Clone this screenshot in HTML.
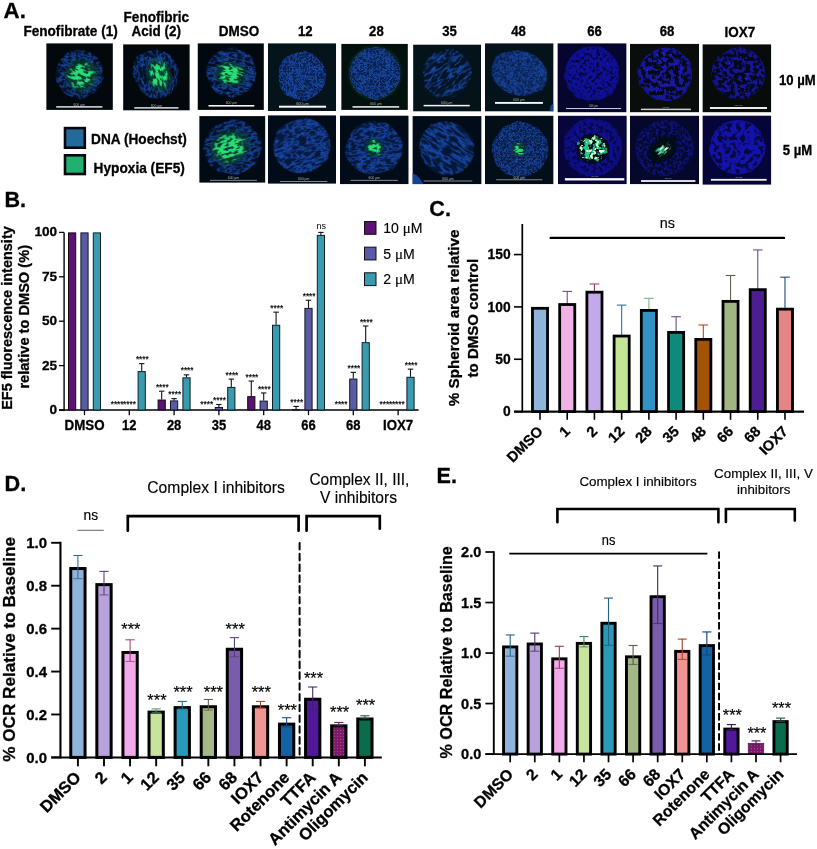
<!DOCTYPE html>
<html lang="en">
<head>
<meta charset="utf-8">
<title>Figure</title>
<style>
html,body{margin:0;padding:0;background:#fff;}
body{width:817px;height:849px;overflow:hidden;}
svg{display:block;font-family:"Liberation Sans", Arial, sans-serif;}
text{white-space:pre;}
</style>
</head>
<body>
<svg width="817" height="849" viewBox="0 0 817 849">
<defs>
<filter id="fFine" x="-5%" y="-5%" width="110%" height="110%" color-interpolation-filters="sRGB">
<feTurbulence type="fractalNoise" baseFrequency="0.42" numOctaves="2" seed="4" result="n"/>
<feColorMatrix in="n" type="matrix" values="0 0 0 0 1 0 0 0 0 1 0 0 0 0 1 5 0 0 0 -1.9" result="m"/>
<feComposite in="SourceGraphic" in2="m" operator="in"/>
</filter>
<filter id="fMed" x="-5%" y="-5%" width="110%" height="110%" color-interpolation-filters="sRGB">
<feTurbulence type="fractalNoise" baseFrequency="0.28" numOctaves="2" seed="9" result="n"/>
<feColorMatrix in="n" type="matrix" values="0 0 0 0 1 0 0 0 0 1 0 0 0 0 1 6 0 0 0 -2.4" result="m"/>
<feComposite in="SourceGraphic" in2="m" operator="in"/>
</filter>
<filter id="fStreak" x="-5%" y="-5%" width="110%" height="110%" color-interpolation-filters="sRGB">
<feTurbulence type="fractalNoise" baseFrequency="0.09 0.3" numOctaves="2" seed="7" result="n"/>
<feColorMatrix in="n" type="matrix" values="0 0 0 0 1 0 0 0 0 1 0 0 0 0 1 7 0 0 0 -2.9" result="m"/>
<feComposite in="SourceGraphic" in2="m" operator="in"/>
</filter>
<filter id="fBlob" x="-5%" y="-5%" width="110%" height="110%" color-interpolation-filters="sRGB">
<feTurbulence type="fractalNoise" baseFrequency="0.16" numOctaves="2" seed="12" result="n"/>
<feColorMatrix in="n" type="matrix" values="0 0 0 0 1 0 0 0 0 1 0 0 0 0 1 7 0 0 0 -2.7" result="m"/>
<feComposite in="SourceGraphic" in2="m" operator="in"/>
</filter>
<filter id="fHoles" x="-5%" y="-5%" width="110%" height="110%" color-interpolation-filters="sRGB">
<feTurbulence type="fractalNoise" baseFrequency="0.3" numOctaves="1" seed="21" result="n"/>
<feColorMatrix in="n" type="matrix" values="0 0 0 0 1 0 0 0 0 1 0 0 0 0 1 -9 0 0 0 5.4" result="m"/>
<feComposite in="SourceGraphic" in2="m" operator="in"/>
</filter>
<filter id="fBlur" x="-20%" y="-20%" width="140%" height="140%"><feGaussianBlur stdDeviation="0.8"/></filter>
<filter id="fBlur2" x="-30%" y="-30%" width="160%" height="160%"><feGaussianBlur stdDeviation="2"/></filter>
<radialGradient id="gBlue" cx="50%" cy="50%" r="50%">
<stop offset="0" stop-color="#1c52b4"/><stop offset="0.85" stop-color="#1a4fb4"/><stop offset="1" stop-color="#143c96"/>
</radialGradient>
<radialGradient id="gBlue2" cx="50%" cy="50%" r="50%">
<stop offset="0" stop-color="#1414b8"/><stop offset="0.9" stop-color="#1616c0"/><stop offset="1" stop-color="#1010a0"/>
</radialGradient>
<radialGradient id="gHalo" cx="50%" cy="50%" r="50%">
<stop offset="0" stop-color="#0a2a66" stop-opacity="0.95"/><stop offset="0.88" stop-color="#0a2660" stop-opacity="0.9"/><stop offset="1" stop-color="#061a40" stop-opacity="0"/>
</radialGradient>
<radialGradient id="gHalo2" cx="50%" cy="50%" r="50%">
<stop offset="0" stop-color="#0a0a6a" stop-opacity="0.95"/><stop offset="0.9" stop-color="#0a0a66" stop-opacity="0.9"/><stop offset="1" stop-color="#060640" stop-opacity="0"/>
</radialGradient>
<radialGradient id="gGreen" cx="50%" cy="50%" r="50%">
<stop offset="0" stop-color="#2cf07a"/><stop offset="0.6" stop-color="#22dc6e"/><stop offset="1" stop-color="#18a860" stop-opacity="0"/>
</radialGradient>
<pattern id="pDots" width="3" height="3" patternUnits="userSpaceOnUse"><rect width="3" height="3" fill="#7c1a70"/><rect x="1" y="1" width="1" height="1" fill="#b4505c"/></pattern>
</defs>

<rect x="0" y="0" width="817" height="849" fill="#fff"/>
<g id="panelA">
<text x="3.60" y="18.20" font-size="22.8" font-weight="700" stroke="#000" stroke-width="0.3" textLength="22.30" lengthAdjust="spacingAndGlyphs">A.</text>
<text x="23.40" y="36.20" font-size="14" font-weight="700" stroke="#000" stroke-width="0.3" textLength="94.40" lengthAdjust="spacingAndGlyphs">Fenofibrate (1)</text>
<text x="123.60" y="21.60" font-size="14" font-weight="700" stroke="#000" stroke-width="0.3" textLength="65.40" lengthAdjust="spacingAndGlyphs">Fenofibric</text>
<text x="131.60" y="36.20" font-size="14" font-weight="700" stroke="#000" stroke-width="0.3" textLength="49.40" lengthAdjust="spacingAndGlyphs">Acid (2)</text>
<text x="218.70" y="36.20" font-size="14" font-weight="700" stroke="#000" stroke-width="0.3" textLength="40.50" lengthAdjust="spacingAndGlyphs">DMSO</text>
<text x="297.90" y="36.40" font-size="14" font-weight="700" stroke="#000" stroke-width="0.3" textLength="14.60" lengthAdjust="spacingAndGlyphs">12</text>
<text x="369.10" y="36.40" font-size="14" font-weight="700" stroke="#000" stroke-width="0.3" textLength="14.60" lengthAdjust="spacingAndGlyphs">28</text>
<text x="442.30" y="36.40" font-size="14" font-weight="700" stroke="#000" stroke-width="0.3" textLength="14.60" lengthAdjust="spacingAndGlyphs">35</text>
<text x="511.30" y="36.40" font-size="14" font-weight="700" stroke="#000" stroke-width="0.3" textLength="14.60" lengthAdjust="spacingAndGlyphs">48</text>
<text x="587.30" y="36.40" font-size="14" font-weight="700" stroke="#000" stroke-width="0.3" textLength="14.60" lengthAdjust="spacingAndGlyphs">66</text>
<text x="659.80" y="36.40" font-size="14" font-weight="700" stroke="#000" stroke-width="0.3" textLength="14.60" lengthAdjust="spacingAndGlyphs">68</text>
<text x="724.60" y="36.80" font-size="14" font-weight="700" stroke="#000" stroke-width="0.3" textLength="30.70" lengthAdjust="spacingAndGlyphs">IOX7</text>
<text x="779.00" y="84.90" font-size="14" font-weight="700" stroke="#000" stroke-width="0.3" textLength="36.70" lengthAdjust="spacingAndGlyphs">10 µM</text>
<text x="782.80" y="154.80" font-size="14" font-weight="700" stroke="#000" stroke-width="0.3" textLength="29.40" lengthAdjust="spacingAndGlyphs">5 µM</text>
<rect x="63.70" y="126.80" width="22.40" height="22.20" fill="#04070f"/>
<rect x="66.30" y="129.40" width="17.20" height="17.00" fill="#236a9a"/>
<rect x="63.70" y="154.00" width="22.40" height="21.30" fill="#04070f"/>
<rect x="66.30" y="156.60" width="17.20" height="16.10" fill="#22b070"/>
<text x="91.10" y="144.40" font-size="14" font-weight="700" stroke="#000" stroke-width="0.3" textLength="95.70" lengthAdjust="spacingAndGlyphs">DNA (Hoechst)</text>
<text x="93.60" y="172.80" font-size="14" font-weight="700" stroke="#000" stroke-width="0.3" textLength="91.20" lengthAdjust="spacingAndGlyphs">Hypoxia (EF5)</text>
<clipPath id="t1"><rect x="46.20" y="43.20" width="66.70" height="66.70"/></clipPath>
<g clip-path="url(#t1)">
<rect x="46.20" y="43.20" width="66.70" height="66.70" fill="#02080c"/>
<radialGradient id="rg1"><stop offset="0" stop-color="#fff"/><stop offset="0.7" stop-color="#fff"/><stop offset="1" stop-color="#fff" stop-opacity="0.86"/></radialGradient>
<filter id="bf1" x="-15%" y="-15%" width="130%" height="130%" color-interpolation-filters="sRGB"><feTurbulence type="fractalNoise" baseFrequency="0.07" numOctaves="2" seed="6" result="lf"/><feDisplacementMap in="SourceGraphic" in2="lf" scale="4" xChannelSelector="R" yChannelSelector="G" result="shape"/><feTurbulence type="fractalNoise" baseFrequency="0.16 0.30" numOctaves="2" seed="3" result="n"/><feColorMatrix in="n" type="matrix" values="0 0 0 0 0 0 0 0 0 0 0 0 0 0 0 1 0 0 0 0" result="m0"/><feComposite in="m0" in2="shape" operator="arithmetic" k1="1" k2="0" k3="0" k4="0" result="c"/><feComponentTransfer in="c" result="thr"><feFuncA type="table" tableValues="0 0 0 0 0 0 0.4 1 0.4 0 0 0 0 0 0"/></feComponentTransfer><feComposite in="thr" in2="shape" operator="in" result="thr2"/><feFlood flood-color="#194bae" result="fc"/><feComposite in="fc" in2="thr2" operator="in" result="strands"/><feFlood flood-color="#051634" flood-opacity="0.55" result="fl"/><feComposite in="fl" in2="shape" operator="in" result="base"/><feMerge result="mg"><feMergeNode in="base"/><feMergeNode in="strands"/></feMerge><feGaussianBlur stdDeviation="0.35"/></filter>
<g transform="rotate(20 79.50 74.30)"><ellipse cx="79.50" cy="74.30" rx="24.20" ry="24.50" fill="url(#rg1)" filter="url(#bf1)"/></g>
<ellipse cx="81.40" cy="75.00" rx="14.72" ry="14.72" fill="#03100e" opacity="0.55" filter="url(#fBlur)"/>
<radialGradient id="rg2"><stop offset="0" stop-color="#fff"/><stop offset="0.5" stop-color="#fff"/><stop offset="1" stop-color="#fff" stop-opacity="0.45"/></radialGradient>
<filter id="bf2" x="-15%" y="-15%" width="130%" height="130%" color-interpolation-filters="sRGB"><feTurbulence type="fractalNoise" baseFrequency="0.07" numOctaves="2" seed="56" result="lf"/><feDisplacementMap in="SourceGraphic" in2="lf" scale="5" xChannelSelector="R" yChannelSelector="G" result="shape"/><feTurbulence type="fractalNoise" baseFrequency="0.16 0.40" numOctaves="2" seed="53" result="n"/><feColorMatrix in="n" type="matrix" values="0 0 0 0 0 0 0 0 0 0 0 0 0 0 0 1 0 0 0 0" result="m0"/><feComposite in="m0" in2="shape" operator="arithmetic" k1="1" k2="0" k3="0" k4="0" result="c"/><feColorMatrix in="c" type="matrix" values="0 0 0 0 0 0 0 0 0 0 0 0 0 0 0 0 0 0 9 -3.6" result="thr"/><feComposite in="thr" in2="shape" operator="in" result="thr2"/><feFlood flood-color="#26e074" result="fc"/><feComposite in="fc" in2="thr2" operator="in" result="strands"/><feFlood flood-color="#0a5a3a" flood-opacity="0.55" result="fl"/><feComposite in="fl" in2="shape" operator="in" result="base"/><feMerge result="mg"><feMergeNode in="base"/><feMergeNode in="strands"/></feMerge><feGaussianBlur stdDeviation="0.3"/></filter>
<g transform="rotate(20 81.40 75.00)"><ellipse cx="81.40" cy="75.00" rx="17.05" ry="17.05" fill="url(#rg2)" filter="url(#bf2)"/></g>
<rect x="56.20" y="106.20" width="46.20" height="1.40" fill="#f0f0f0"/>
<text x="79.30" y="105.50" font-size="3.4" text-anchor="middle" fill="#c8c8c8" opacity="0.85">600 µm</text>
</g>
<clipPath id="t2"><rect x="123.10" y="44.20" width="66.70" height="66.40"/></clipPath>
<g clip-path="url(#t2)">
<rect x="123.10" y="44.20" width="66.70" height="66.40" fill="#02080c"/>
<radialGradient id="rg3"><stop offset="0" stop-color="#fff"/><stop offset="0.7" stop-color="#fff"/><stop offset="1" stop-color="#fff" stop-opacity="0.86"/></radialGradient>
<filter id="bf3" x="-15%" y="-15%" width="130%" height="130%" color-interpolation-filters="sRGB"><feTurbulence type="fractalNoise" baseFrequency="0.07" numOctaves="2" seed="8" result="lf"/><feDisplacementMap in="SourceGraphic" in2="lf" scale="4" xChannelSelector="R" yChannelSelector="G" result="shape"/><feTurbulence type="fractalNoise" baseFrequency="0.16 0.30" numOctaves="2" seed="5" result="n"/><feColorMatrix in="n" type="matrix" values="0 0 0 0 0 0 0 0 0 0 0 0 0 0 0 1 0 0 0 0" result="m0"/><feComposite in="m0" in2="shape" operator="arithmetic" k1="1" k2="0" k3="0" k4="0" result="c"/><feComponentTransfer in="c" result="thr"><feFuncA type="table" tableValues="0 0 0 0 0 0 0.4 1 0.4 0 0 0 0 0 0"/></feComponentTransfer><feComposite in="thr" in2="shape" operator="in" result="thr2"/><feFlood flood-color="#194bae" result="fc"/><feComposite in="fc" in2="thr2" operator="in" result="strands"/><feFlood flood-color="#051634" flood-opacity="0.55" result="fl"/><feComposite in="fl" in2="shape" operator="in" result="base"/><feMerge result="mg"><feMergeNode in="base"/><feMergeNode in="strands"/></feMerge><feGaussianBlur stdDeviation="0.35"/></filter>
<g transform="rotate(70 156.00 73.70)"><ellipse cx="156.00" cy="73.70" rx="25.20" ry="22.40" fill="url(#rg3)" filter="url(#bf3)"/></g>
<ellipse cx="158.80" cy="74.50" rx="16.15" ry="10.92" fill="#03100e" opacity="0.55" filter="url(#fBlur)"/>
<radialGradient id="rg4"><stop offset="0" stop-color="#fff"/><stop offset="0.5" stop-color="#fff"/><stop offset="1" stop-color="#fff" stop-opacity="0.45"/></radialGradient>
<filter id="bf4" x="-15%" y="-15%" width="130%" height="130%" color-interpolation-filters="sRGB"><feTurbulence type="fractalNoise" baseFrequency="0.07" numOctaves="2" seed="58" result="lf"/><feDisplacementMap in="SourceGraphic" in2="lf" scale="5" xChannelSelector="R" yChannelSelector="G" result="shape"/><feTurbulence type="fractalNoise" baseFrequency="0.16 0.40" numOctaves="2" seed="55" result="n"/><feColorMatrix in="n" type="matrix" values="0 0 0 0 0 0 0 0 0 0 0 0 0 0 0 1 0 0 0 0" result="m0"/><feComposite in="m0" in2="shape" operator="arithmetic" k1="1" k2="0" k3="0" k4="0" result="c"/><feColorMatrix in="c" type="matrix" values="0 0 0 0 0 0 0 0 0 0 0 0 0 0 0 0 0 0 9 -3.6" result="thr"/><feComposite in="thr" in2="shape" operator="in" result="thr2"/><feFlood flood-color="#26e074" result="fc"/><feComposite in="fc" in2="thr2" operator="in" result="strands"/><feFlood flood-color="#0a5a3a" flood-opacity="0.55" result="fl"/><feComposite in="fl" in2="shape" operator="in" result="base"/><feMerge result="mg"><feMergeNode in="base"/><feMergeNode in="strands"/></feMerge><feGaussianBlur stdDeviation="0.3"/></filter>
<g transform="rotate(70 158.80 74.50)"><ellipse cx="158.80" cy="74.50" rx="18.70" ry="12.65" fill="url(#rg4)" filter="url(#bf4)"/></g>
<rect x="134.30" y="107.20" width="44.20" height="1.40" fill="#f0f0f0"/>
<text x="156.40" y="106.50" font-size="3.4" text-anchor="middle" fill="#c8c8c8" opacity="0.85">600 µm</text>
</g>
<clipPath id="t3"><rect x="197.50" y="43.20" width="66.40" height="66.70"/></clipPath>
<g clip-path="url(#t3)">
<rect x="197.50" y="43.20" width="66.40" height="66.70" fill="#01080e"/>
<radialGradient id="rg5"><stop offset="0" stop-color="#fff"/><stop offset="0.7" stop-color="#fff"/><stop offset="1" stop-color="#fff" stop-opacity="0.86"/></radialGradient>
<filter id="bf5" x="-15%" y="-15%" width="130%" height="130%" color-interpolation-filters="sRGB"><feTurbulence type="fractalNoise" baseFrequency="0.07" numOctaves="2" seed="10" result="lf"/><feDisplacementMap in="SourceGraphic" in2="lf" scale="4" xChannelSelector="R" yChannelSelector="G" result="shape"/><feTurbulence type="fractalNoise" baseFrequency="0.12 0.28" numOctaves="2" seed="7" result="n"/><feColorMatrix in="n" type="matrix" values="0 0 0 0 0 0 0 0 0 0 0 0 0 0 0 1 0 0 0 0" result="m0"/><feComposite in="m0" in2="shape" operator="arithmetic" k1="1" k2="0" k3="0" k4="0" result="c"/><feComponentTransfer in="c" result="thr"><feFuncA type="table" tableValues="0 0 0 0 0 0 0.4 1 0.4 0 0 0 0 0 0"/></feComponentTransfer><feComposite in="thr" in2="shape" operator="in" result="thr2"/><feFlood flood-color="#194bae" result="fc"/><feComposite in="fc" in2="thr2" operator="in" result="strands"/><feFlood flood-color="#051634" flood-opacity="0.55" result="fl"/><feComposite in="fl" in2="shape" operator="in" result="base"/><feMerge result="mg"><feMergeNode in="base"/><feMergeNode in="strands"/></feMerge><feGaussianBlur stdDeviation="0.35"/></filter>
<g transform="rotate(10 231.10 72.70)"><ellipse cx="231.10" cy="72.70" rx="25.20" ry="24.60" fill="url(#rg5)" filter="url(#bf5)"/></g>
<ellipse cx="230.50" cy="73.70" rx="15.20" ry="11.40" fill="#03100e" opacity="0.55" filter="url(#fBlur)"/>
<radialGradient id="rg6"><stop offset="0" stop-color="#fff"/><stop offset="0.5" stop-color="#fff"/><stop offset="1" stop-color="#fff" stop-opacity="0.45"/></radialGradient>
<filter id="bf6" x="-15%" y="-15%" width="130%" height="130%" color-interpolation-filters="sRGB"><feTurbulence type="fractalNoise" baseFrequency="0.07" numOctaves="2" seed="60" result="lf"/><feDisplacementMap in="SourceGraphic" in2="lf" scale="5" xChannelSelector="R" yChannelSelector="G" result="shape"/><feTurbulence type="fractalNoise" baseFrequency="0.16 0.40" numOctaves="2" seed="57" result="n"/><feColorMatrix in="n" type="matrix" values="0 0 0 0 0 0 0 0 0 0 0 0 0 0 0 1 0 0 0 0" result="m0"/><feComposite in="m0" in2="shape" operator="arithmetic" k1="1" k2="0" k3="0" k4="0" result="c"/><feColorMatrix in="c" type="matrix" values="0 0 0 0 0 0 0 0 0 0 0 0 0 0 0 0 0 0 9 -3.6" result="thr"/><feComposite in="thr" in2="shape" operator="in" result="thr2"/><feFlood flood-color="#26e074" result="fc"/><feComposite in="fc" in2="thr2" operator="in" result="strands"/><feFlood flood-color="#0a5a3a" flood-opacity="0.55" result="fl"/><feComposite in="fl" in2="shape" operator="in" result="base"/><feMerge result="mg"><feMergeNode in="base"/><feMergeNode in="strands"/></feMerge><feGaussianBlur stdDeviation="0.3"/></filter>
<g transform="rotate(10 230.50 73.70)"><ellipse cx="230.50" cy="73.70" rx="17.60" ry="13.20" fill="url(#rg6)" filter="url(#bf6)"/></g>
<rect x="208.50" y="105.00" width="45.80" height="1.60" fill="#f4f4f4"/>
<text x="231.40" y="104.30" font-size="3.4" text-anchor="middle" fill="#c8c8c8" opacity="0.85">600 µm</text>
</g>
<clipPath id="t4"><rect x="267.90" y="43.20" width="68.20" height="67.80"/></clipPath>
<g clip-path="url(#t4)">
<rect x="267.90" y="43.20" width="68.20" height="67.80" fill="#04141a"/>
<radialGradient id="rg7"><stop offset="0" stop-color="#fff"/><stop offset="0.85" stop-color="#fff"/><stop offset="1" stop-color="#fff" stop-opacity="0.85"/></radialGradient>
<filter id="bf7" x="-15%" y="-15%" width="130%" height="130%" color-interpolation-filters="sRGB"><feTurbulence type="fractalNoise" baseFrequency="0.07" numOctaves="2" seed="7" result="lf"/><feDisplacementMap in="SourceGraphic" in2="lf" scale="3" xChannelSelector="R" yChannelSelector="G" result="shape"/><feTurbulence type="fractalNoise" baseFrequency="0.30" numOctaves="2" seed="4" result="n"/><feColorMatrix in="n" type="matrix" values="0 0 0 0 0 0 0 0 0 0 0 0 0 0 0 1 0 0 0 0" result="m0"/><feComposite in="m0" in2="shape" operator="arithmetic" k1="1" k2="0" k3="0" k4="0" result="c"/><feComponentTransfer in="c" result="thr"><feFuncA type="table" tableValues="0 0 0 0 0 0 0.5 1 0.5 0 0 0 0 0 0"/></feComponentTransfer><feComposite in="thr" in2="shape" operator="in" result="thr2"/><feFlood flood-color="#1a49a8" result="fc"/><feComposite in="fc" in2="thr2" operator="in" result="strands"/><feFlood flood-color="#0a2250" flood-opacity="1" result="fl"/><feComposite in="fl" in2="shape" operator="in" result="base"/><feMerge result="mg"><feMergeNode in="base"/><feMergeNode in="strands"/></feMerge><feGaussianBlur stdDeviation="0.35"/></filter>
<g><ellipse cx="301.80" cy="75.80" rx="24.40" ry="24.40" fill="url(#rg7)" filter="url(#bf7)"/></g>
<rect x="279.00" y="105.70" width="47.10" height="2.00" fill="#f8f8f8"/>
<text x="302.55" y="105.00" font-size="3.8" text-anchor="middle" fill="#c8c8c8" opacity="0.85">600 µm</text>
</g>
<clipPath id="t5"><rect x="341.20" y="43.70" width="66.70" height="66.20"/></clipPath>
<g clip-path="url(#t5)">
<rect x="341.20" y="43.70" width="66.70" height="66.20" fill="#02100e"/>
<radialGradient id="rg8"><stop offset="0" stop-color="#fff"/><stop offset="0.85" stop-color="#fff"/><stop offset="1" stop-color="#fff" stop-opacity="0.85"/></radialGradient>
<filter id="bf8" x="-15%" y="-15%" width="130%" height="130%" color-interpolation-filters="sRGB"><feTurbulence type="fractalNoise" baseFrequency="0.07" numOctaves="2" seed="14" result="lf"/><feDisplacementMap in="SourceGraphic" in2="lf" scale="3" xChannelSelector="R" yChannelSelector="G" result="shape"/><feTurbulence type="fractalNoise" baseFrequency="0.30" numOctaves="2" seed="11" result="n"/><feColorMatrix in="n" type="matrix" values="0 0 0 0 0 0 0 0 0 0 0 0 0 0 0 1 0 0 0 0" result="m0"/><feComposite in="m0" in2="shape" operator="arithmetic" k1="1" k2="0" k3="0" k4="0" result="c"/><feComponentTransfer in="c" result="thr"><feFuncA type="table" tableValues="0 0 0 0 0 0 0.5 1 0.5 0 0 0 0 0 0"/></feComponentTransfer><feComposite in="thr" in2="shape" operator="in" result="thr2"/><feFlood flood-color="#1a49a8" result="fc"/><feComposite in="fc" in2="thr2" operator="in" result="strands"/><feFlood flood-color="#0a2250" flood-opacity="1" result="fl"/><feComposite in="fl" in2="shape" operator="in" result="base"/><feMerge result="mg"><feMergeNode in="base"/><feMergeNode in="strands"/></feMerge><feGaussianBlur stdDeviation="0.35"/></filter>
<g><ellipse cx="375.00" cy="73.00" rx="25.60" ry="26.20" fill="url(#rg8)" filter="url(#bf8)"/></g>
<circle cx="375" cy="73" r="26" fill="none" stroke="#165038" stroke-width="1.6" opacity="0.5" filter="url(#fBlur)"/>
<rect x="352.50" y="106.15" width="46.70" height="1.50" fill="#f4f4f4"/>
<text x="375.85" y="105.45" font-size="3.4" text-anchor="middle" fill="#c8c8c8" opacity="0.85">600 µm</text>
</g>
<clipPath id="t6"><rect x="413.10" y="44.40" width="68.00" height="67.20"/></clipPath>
<g clip-path="url(#t6)">
<rect x="413.10" y="44.40" width="68.00" height="67.20" fill="#04121a"/>
<radialGradient id="rg9"><stop offset="0" stop-color="#fff"/><stop offset="0.7" stop-color="#fff"/><stop offset="1" stop-color="#fff" stop-opacity="0.85"/></radialGradient>
<filter id="bf9" x="-15%" y="-15%" width="130%" height="130%" color-interpolation-filters="sRGB"><feTurbulence type="fractalNoise" baseFrequency="0.07" numOctaves="2" seed="12" result="lf"/><feDisplacementMap in="SourceGraphic" in2="lf" scale="6" xChannelSelector="R" yChannelSelector="G" result="shape"/><feTurbulence type="fractalNoise" baseFrequency="0.08 0.26" numOctaves="2" seed="9" result="n"/><feColorMatrix in="n" type="matrix" values="0 0 0 0 0 0 0 0 0 0 0 0 0 0 0 1 0 0 0 0" result="m0"/><feComposite in="m0" in2="shape" operator="arithmetic" k1="1" k2="0" k3="0" k4="0" result="c"/><feComponentTransfer in="c" result="thr"><feFuncA type="table" tableValues="0 0 0 0 0 0 0.25 1 0.25 0 0 0 0 0 0"/></feComponentTransfer><feComposite in="thr" in2="shape" operator="in" result="thr2"/><feFlood flood-color="#194bae" result="fc"/><feComposite in="fc" in2="thr2" operator="in" result="strands"/><feFlood flood-color="#051634" flood-opacity="0.4" result="fl"/><feComposite in="fl" in2="shape" operator="in" result="base"/><feMerge result="mg"><feMergeNode in="base"/><feMergeNode in="strands"/></feMerge><feGaussianBlur stdDeviation="0.35"/></filter>
<g transform="rotate(-40 446.70 73.70)"><ellipse cx="446.70" cy="73.70" rx="25.00" ry="23.20" fill="url(#rg9)" filter="url(#bf9)"/></g>
<rect x="423.60" y="104.85" width="46.20" height="1.50" fill="#f4f4f4"/>
<text x="446.70" y="104.15" font-size="3.4" text-anchor="middle" fill="#c8c8c8" opacity="0.85">600 µm</text>
</g>
<clipPath id="t7"><rect x="485.00" y="43.20" width="68.60" height="68.40"/></clipPath>
<g clip-path="url(#t7)">
<rect x="485.00" y="43.20" width="68.60" height="68.40" fill="#04121a"/>
<radialGradient id="rg10"><stop offset="0" stop-color="#fff"/><stop offset="0.85" stop-color="#fff"/><stop offset="1" stop-color="#fff" stop-opacity="0.85"/></radialGradient>
<filter id="bf10" x="-15%" y="-15%" width="130%" height="130%" color-interpolation-filters="sRGB"><feTurbulence type="fractalNoise" baseFrequency="0.07" numOctaves="2" seed="18" result="lf"/><feDisplacementMap in="SourceGraphic" in2="lf" scale="3" xChannelSelector="R" yChannelSelector="G" result="shape"/><feTurbulence type="fractalNoise" baseFrequency="0.30" numOctaves="2" seed="15" result="n"/><feColorMatrix in="n" type="matrix" values="0 0 0 0 0 0 0 0 0 0 0 0 0 0 0 1 0 0 0 0" result="m0"/><feComposite in="m0" in2="shape" operator="arithmetic" k1="1" k2="0" k3="0" k4="0" result="c"/><feComponentTransfer in="c" result="thr"><feFuncA type="table" tableValues="0 0 0 0 0 0 0.5 1 0.5 0 0 0 0 0 0"/></feComponentTransfer><feComposite in="thr" in2="shape" operator="in" result="thr2"/><feFlood flood-color="#1a49a8" result="fc"/><feComposite in="fc" in2="thr2" operator="in" result="strands"/><feFlood flood-color="#0a2250" flood-opacity="1" result="fl"/><feComposite in="fl" in2="shape" operator="in" result="base"/><feMerge result="mg"><feMergeNode in="base"/><feMergeNode in="strands"/></feMerge><feGaussianBlur stdDeviation="0.35"/></filter>
<g transform="rotate(15 519.30 73.00)"><ellipse cx="519.30" cy="73.00" rx="28.60" ry="22.40" fill="url(#rg10)" filter="url(#bf10)"/></g>
<path d="M553.6 103 L550.5 106 L549.5 111.6 L553.6 111.6Z" fill="#1a4fb4" opacity="0.8"/>
<rect x="495.00" y="101.95" width="47.90" height="1.90" fill="#f8f8f8"/>
<text x="518.95" y="101.25" font-size="3.4" text-anchor="middle" fill="#c8c8c8" opacity="0.85">600 µm</text>
</g>
<clipPath id="t8"><rect x="557.40" y="43.20" width="69.20" height="69.20"/></clipPath>
<g clip-path="url(#t8)">
<rect x="557.40" y="43.20" width="69.20" height="69.20" fill="#05052e"/>
<radialGradient id="rg11"><stop offset="0" stop-color="#fff"/><stop offset="0.8" stop-color="#fff"/><stop offset="1" stop-color="#fff" stop-opacity="0.8"/></radialGradient>
<filter id="bf11" x="-15%" y="-15%" width="130%" height="130%" color-interpolation-filters="sRGB"><feTurbulence type="fractalNoise" baseFrequency="0.07" numOctaves="2" seed="24" result="lf"/><feDisplacementMap in="SourceGraphic" in2="lf" scale="4" xChannelSelector="R" yChannelSelector="G" result="shape"/><feTurbulence type="fractalNoise" baseFrequency="0.3" numOctaves="2" seed="21" result="n"/><feColorMatrix in="n" type="matrix" values="0 0 0 0 0 0 0 0 0 0 0 0 0 0 0 1 0 0 0 0" result="m0"/><feComposite in="m0" in2="shape" operator="arithmetic" k1="1" k2="0" k3="0" k4="0" result="c"/><feColorMatrix in="c" type="matrix" values="0 0 0 0 0 0 0 0 0 0 0 0 0 0 0 0 0 0 -5 3.3499999999999996" result="thr"/><feComposite in="thr" in2="shape" operator="in" result="thr2"/><feFlood flood-color="#10109c" result="fc"/><feComposite in="fc" in2="thr2" operator="in" result="strands"/><feFlood flood-color="#07073c" flood-opacity="0.9" result="fl"/><feComposite in="fl" in2="shape" operator="in" result="base"/><feMerge result="mg"><feMergeNode in="base"/><feMergeNode in="strands"/></feMerge><feGaussianBlur stdDeviation="0.35"/></filter>
<g><ellipse cx="592.30" cy="73.70" rx="27.40" ry="27.40" fill="url(#rg11)" filter="url(#bf11)"/></g>
<rect x="566.10" y="108.15" width="55.00" height="0.90" fill="#e8e8f0"/>
<text x="593.60" y="107.45" font-size="2.6" text-anchor="middle" fill="#c8c8c8" opacity="0.85">600 µm</text>
</g>
<clipPath id="t9"><rect x="630.00" y="43.70" width="69.10" height="68.70"/></clipPath>
<g clip-path="url(#t9)">
<rect x="630.00" y="43.70" width="69.10" height="68.70" fill="#090e0c"/>
<radialGradient id="rg12"><stop offset="0" stop-color="#fff"/><stop offset="0.8" stop-color="#fff"/><stop offset="1" stop-color="#fff" stop-opacity="0.8"/></radialGradient>
<filter id="bf12" x="-15%" y="-15%" width="130%" height="130%" color-interpolation-filters="sRGB"><feTurbulence type="fractalNoise" baseFrequency="0.07" numOctaves="2" seed="26" result="lf"/><feDisplacementMap in="SourceGraphic" in2="lf" scale="4" xChannelSelector="R" yChannelSelector="G" result="shape"/><feTurbulence type="fractalNoise" baseFrequency="0.24" numOctaves="2" seed="23" result="n"/><feColorMatrix in="n" type="matrix" values="0 0 0 0 0 0 0 0 0 0 0 0 0 0 0 1 0 0 0 0" result="m0"/><feComposite in="m0" in2="shape" operator="arithmetic" k1="1" k2="0" k3="0" k4="0" result="c"/><feColorMatrix in="c" type="matrix" values="0 0 0 0 0 0 0 0 0 0 0 0 0 0 0 0 0 0 -7 3.9299999999999997" result="thr"/><feComposite in="thr" in2="shape" operator="in" result="thr2"/><feFlood flood-color="#1719a6" result="fc"/><feComposite in="fc" in2="thr2" operator="in" result="strands"/><feFlood flood-color="#06081a" flood-opacity="0.9" result="fl"/><feComposite in="fl" in2="shape" operator="in" result="base"/><feMerge result="mg"><feMergeNode in="base"/><feMergeNode in="strands"/></feMerge><feGaussianBlur stdDeviation="0.35"/></filter>
<g><ellipse cx="665.20" cy="74.60" rx="27.00" ry="27.00" fill="url(#rg12)" filter="url(#bf12)"/></g>
<circle cx="651.6" cy="61.7" r="0.45" fill="#c848c8" opacity="0.85"/>
<circle cx="671.2" cy="54.4" r="0.45" fill="#c848c8" opacity="0.85"/>
<circle cx="663.9" cy="53.8" r="0.45" fill="#c848c8" opacity="0.85"/>
<circle cx="680.0" cy="77.6" r="0.45" fill="#c848c8" opacity="0.85"/>
<circle cx="681.8" cy="68.7" r="0.45" fill="#c848c8" opacity="0.85"/>
<circle cx="671.2" cy="70.6" r="0.45" fill="#c848c8" opacity="0.85"/>
<circle cx="654.5" cy="77.0" r="0.45" fill="#c848c8" opacity="0.85"/>
<circle cx="649.2" cy="70.4" r="0.45" fill="#c848c8" opacity="0.85"/>
<circle cx="675.4" cy="75.7" r="0.45" fill="#c848c8" opacity="0.85"/>
<circle cx="661.3" cy="95.6" r="0.45" fill="#c848c8" opacity="0.85"/>
<circle cx="666.1" cy="66.2" r="0.45" fill="#c848c8" opacity="0.85"/>
<circle cx="667.6" cy="67.1" r="0.45" fill="#c848c8" opacity="0.85"/>
<circle cx="659.4" cy="69.6" r="0.45" fill="#c848c8" opacity="0.85"/>
<circle cx="685.7" cy="75.1" r="0.45" fill="#c848c8" opacity="0.85"/>
<circle cx="667.8" cy="84.8" r="0.45" fill="#c848c8" opacity="0.85"/>
<circle cx="685.6" cy="72.6" r="0.45" fill="#c848c8" opacity="0.85"/>
<circle cx="659.9" cy="95.8" r="0.45" fill="#c848c8" opacity="0.85"/>
<circle cx="647.6" cy="70.5" r="0.45" fill="#c848c8" opacity="0.85"/>
<circle cx="671.2" cy="95.4" r="0.45" fill="#c848c8" opacity="0.85"/>
<circle cx="657.3" cy="54.8" r="0.45" fill="#c848c8" opacity="0.85"/>
<circle cx="674.6" cy="67.5" r="0.45" fill="#c848c8" opacity="0.85"/>
<circle cx="659.4" cy="81.8" r="0.45" fill="#c848c8" opacity="0.85"/>
<circle cx="668.6" cy="79.4" r="0.45" fill="#c848c8" opacity="0.85"/>
<circle cx="659.8" cy="91.1" r="0.45" fill="#c848c8" opacity="0.85"/>
<circle cx="683.3" cy="75.3" r="0.45" fill="#c848c8" opacity="0.85"/>
<circle cx="658.8" cy="85.3" r="0.45" fill="#c848c8" opacity="0.85"/>
<rect x="641.00" y="108.65" width="49.90" height="1.50" fill="#cfcfcf"/>
<text x="665.95" y="107.95" font-size="2.0" text-anchor="middle" fill="#c8c8c8" opacity="0.85">600 µm</text>
</g>
<clipPath id="t10"><rect x="702.40" y="44.20" width="68.90" height="68.20"/></clipPath>
<g clip-path="url(#t10)">
<rect x="702.40" y="44.20" width="68.90" height="68.20" fill="#070c0a"/>
<radialGradient id="rg13"><stop offset="0" stop-color="#fff"/><stop offset="0.8" stop-color="#fff"/><stop offset="1" stop-color="#fff" stop-opacity="0.8"/></radialGradient>
<filter id="bf13" x="-15%" y="-15%" width="130%" height="130%" color-interpolation-filters="sRGB"><feTurbulence type="fractalNoise" baseFrequency="0.07" numOctaves="2" seed="28" result="lf"/><feDisplacementMap in="SourceGraphic" in2="lf" scale="4" xChannelSelector="R" yChannelSelector="G" result="shape"/><feTurbulence type="fractalNoise" baseFrequency="0.26" numOctaves="2" seed="25" result="n"/><feColorMatrix in="n" type="matrix" values="0 0 0 0 0 0 0 0 0 0 0 0 0 0 0 1 0 0 0 0" result="m0"/><feComposite in="m0" in2="shape" operator="arithmetic" k1="1" k2="0" k3="0" k4="0" result="c"/><feColorMatrix in="c" type="matrix" values="0 0 0 0 0 0 0 0 0 0 0 0 0 0 0 0 0 0 -7 3.895" result="thr"/><feComposite in="thr" in2="shape" operator="in" result="thr2"/><feFlood flood-color="#151598" result="fc"/><feComposite in="fc" in2="thr2" operator="in" result="strands"/><feFlood flood-color="#060818" flood-opacity="0.9" result="fl"/><feComposite in="fl" in2="shape" operator="in" result="base"/><feMerge result="mg"><feMergeNode in="base"/><feMergeNode in="strands"/></feMerge><feGaussianBlur stdDeviation="0.35"/></filter>
<g><ellipse cx="738.30" cy="73.40" rx="27.00" ry="25.80" fill="url(#rg13)" filter="url(#bf13)"/></g>
<circle cx="741.2" cy="93.1" r="0.45" fill="#c848c8" opacity="0.85"/>
<circle cx="750.1" cy="85.7" r="0.45" fill="#c848c8" opacity="0.85"/>
<circle cx="746.9" cy="78.8" r="0.45" fill="#c848c8" opacity="0.85"/>
<circle cx="747.5" cy="73.6" r="0.45" fill="#c848c8" opacity="0.85"/>
<circle cx="729.8" cy="63.2" r="0.45" fill="#c848c8" opacity="0.85"/>
<circle cx="724.8" cy="77.8" r="0.45" fill="#c848c8" opacity="0.85"/>
<circle cx="744.8" cy="90.7" r="0.45" fill="#c848c8" opacity="0.85"/>
<circle cx="746.5" cy="78.9" r="0.45" fill="#c848c8" opacity="0.85"/>
<circle cx="748.5" cy="75.0" r="0.45" fill="#c848c8" opacity="0.85"/>
<circle cx="722.4" cy="84.1" r="0.45" fill="#c848c8" opacity="0.85"/>
<circle cx="733.4" cy="78.3" r="0.45" fill="#c848c8" opacity="0.85"/>
<circle cx="737.3" cy="93.6" r="0.45" fill="#c848c8" opacity="0.85"/>
<rect x="709.90" y="107.05" width="57.10" height="1.90" fill="#f8f8f8"/>
<text x="738.45" y="106.35" font-size="2.4" text-anchor="middle" fill="#c8c8c8" opacity="0.85">600 µm</text>
</g>
<clipPath id="t11"><rect x="199.20" y="116.10" width="66.20" height="66.70"/></clipPath>
<g clip-path="url(#t11)">
<rect x="199.20" y="116.10" width="66.20" height="66.70" fill="#020a14"/>
<radialGradient id="rg14"><stop offset="0" stop-color="#fff"/><stop offset="0.7" stop-color="#fff"/><stop offset="1" stop-color="#fff" stop-opacity="0.86"/></radialGradient>
<filter id="bf14" x="-15%" y="-15%" width="130%" height="130%" color-interpolation-filters="sRGB"><feTurbulence type="fractalNoise" baseFrequency="0.07" numOctaves="2" seed="34" result="lf"/><feDisplacementMap in="SourceGraphic" in2="lf" scale="4" xChannelSelector="R" yChannelSelector="G" result="shape"/><feTurbulence type="fractalNoise" baseFrequency="0.12 0.28" numOctaves="2" seed="31" result="n"/><feColorMatrix in="n" type="matrix" values="0 0 0 0 0 0 0 0 0 0 0 0 0 0 0 1 0 0 0 0" result="m0"/><feComposite in="m0" in2="shape" operator="arithmetic" k1="1" k2="0" k3="0" k4="0" result="c"/><feComponentTransfer in="c" result="thr"><feFuncA type="table" tableValues="0 0 0 0 0 0 0.4 1 0.4 0 0 0 0 0 0"/></feComponentTransfer><feComposite in="thr" in2="shape" operator="in" result="thr2"/><feFlood flood-color="#194bae" result="fc"/><feComposite in="fc" in2="thr2" operator="in" result="strands"/><feFlood flood-color="#051634" flood-opacity="0.6" result="fl"/><feComposite in="fl" in2="shape" operator="in" result="base"/><feMerge result="mg"><feMergeNode in="base"/><feMergeNode in="strands"/></feMerge><feGaussianBlur stdDeviation="0.35"/></filter>
<g transform="rotate(-15 232.40 147.30)"><ellipse cx="232.40" cy="147.30" rx="28.80" ry="27.40" fill="url(#rg14)" filter="url(#bf14)"/></g>
<ellipse cx="229.50" cy="147.00" rx="18.52" ry="15.67" fill="#03100e" opacity="0.55" filter="url(#fBlur)"/>
<radialGradient id="rg15"><stop offset="0" stop-color="#fff"/><stop offset="0.5" stop-color="#fff"/><stop offset="1" stop-color="#fff" stop-opacity="0.45"/></radialGradient>
<filter id="bf15" x="-15%" y="-15%" width="130%" height="130%" color-interpolation-filters="sRGB"><feTurbulence type="fractalNoise" baseFrequency="0.07" numOctaves="2" seed="84" result="lf"/><feDisplacementMap in="SourceGraphic" in2="lf" scale="5" xChannelSelector="R" yChannelSelector="G" result="shape"/><feTurbulence type="fractalNoise" baseFrequency="0.16 0.40" numOctaves="2" seed="81" result="n"/><feColorMatrix in="n" type="matrix" values="0 0 0 0 0 0 0 0 0 0 0 0 0 0 0 1 0 0 0 0" result="m0"/><feComposite in="m0" in2="shape" operator="arithmetic" k1="1" k2="0" k3="0" k4="0" result="c"/><feColorMatrix in="c" type="matrix" values="0 0 0 0 0 0 0 0 0 0 0 0 0 0 0 0 0 0 9 -3.6" result="thr"/><feComposite in="thr" in2="shape" operator="in" result="thr2"/><feFlood flood-color="#26e074" result="fc"/><feComposite in="fc" in2="thr2" operator="in" result="strands"/><feFlood flood-color="#0a5a3a" flood-opacity="0.55" result="fl"/><feComposite in="fl" in2="shape" operator="in" result="base"/><feMerge result="mg"><feMergeNode in="base"/><feMergeNode in="strands"/></feMerge><feGaussianBlur stdDeviation="0.3"/></filter>
<g transform="rotate(-15 229.50 147.00)"><ellipse cx="229.50" cy="147.00" rx="21.45" ry="18.15" fill="url(#rg15)" filter="url(#bf15)"/></g>
<rect x="210.00" y="179.90" width="46.90" height="0.80" fill="#a8a8a8"/>
<text x="233.45" y="179.20" font-size="3.4" text-anchor="middle" fill="#c8c8c8" opacity="0.85">600 µm</text>
</g>
<clipPath id="t12"><rect x="267.90" y="115.20" width="68.20" height="68.60"/></clipPath>
<g clip-path="url(#t12)">
<rect x="267.90" y="115.20" width="68.20" height="68.60" fill="#020c18"/>
<radialGradient id="rg16"><stop offset="0" stop-color="#fff"/><stop offset="0.85" stop-color="#fff"/><stop offset="1" stop-color="#fff" stop-opacity="0.95"/></radialGradient>
<filter id="bf16" x="-15%" y="-15%" width="130%" height="130%" color-interpolation-filters="sRGB"><feTurbulence type="fractalNoise" baseFrequency="0.07" numOctaves="2" seed="36" result="lf"/><feDisplacementMap in="SourceGraphic" in2="lf" scale="3" xChannelSelector="R" yChannelSelector="G" result="shape"/><feTurbulence type="fractalNoise" baseFrequency="0.10 0.24" numOctaves="2" seed="33" result="n"/><feColorMatrix in="n" type="matrix" values="0 0 0 0 0 0 0 0 0 0 0 0 0 0 0 1 0 0 0 0" result="m0"/><feComposite in="m0" in2="shape" operator="arithmetic" k1="1" k2="0" k3="0" k4="0" result="c"/><feComponentTransfer in="c" result="thr"><feFuncA type="table" tableValues="0 0 0 0 0 0 0.4 1 0.4 0 0 0 0 0 0"/></feComponentTransfer><feComposite in="thr" in2="shape" operator="in" result="thr2"/><feFlood flood-color="#194bae" result="fc"/><feComposite in="fc" in2="thr2" operator="in" result="strands"/><feFlood flood-color="#071c46" flood-opacity="0.8" result="fl"/><feComposite in="fl" in2="shape" operator="in" result="base"/><feMerge result="mg"><feMergeNode in="base"/><feMergeNode in="strands"/></feMerge><feGaussianBlur stdDeviation="0.35"/></filter>
<g transform="rotate(-20 301.90 145.90)"><ellipse cx="301.90" cy="145.90" rx="29.00" ry="27.20" fill="url(#rg16)" filter="url(#bf16)"/></g>
<rect x="279.90" y="181.10" width="47.40" height="0.80" fill="#a8a8a8"/>
<text x="303.60" y="180.40" font-size="3.4" text-anchor="middle" fill="#c8c8c8" opacity="0.85">600 µm</text>
</g>
<clipPath id="t13"><rect x="340.00" y="115.40" width="68.70" height="68.90"/></clipPath>
<g clip-path="url(#t13)">
<rect x="340.00" y="115.40" width="68.70" height="68.90" fill="#020c18"/>
<radialGradient id="rg17"><stop offset="0" stop-color="#fff"/><stop offset="0.75" stop-color="#fff"/><stop offset="1" stop-color="#fff" stop-opacity="0.86"/></radialGradient>
<filter id="bf17" x="-15%" y="-15%" width="130%" height="130%" color-interpolation-filters="sRGB"><feTurbulence type="fractalNoise" baseFrequency="0.07" numOctaves="2" seed="38" result="lf"/><feDisplacementMap in="SourceGraphic" in2="lf" scale="4" xChannelSelector="R" yChannelSelector="G" result="shape"/><feTurbulence type="fractalNoise" baseFrequency="0.12 0.26" numOctaves="2" seed="35" result="n"/><feColorMatrix in="n" type="matrix" values="0 0 0 0 0 0 0 0 0 0 0 0 0 0 0 1 0 0 0 0" result="m0"/><feComposite in="m0" in2="shape" operator="arithmetic" k1="1" k2="0" k3="0" k4="0" result="c"/><feComponentTransfer in="c" result="thr"><feFuncA type="table" tableValues="0 0 0 0 0 0 0.4 1 0.4 0 0 0 0 0 0"/></feComponentTransfer><feComposite in="thr" in2="shape" operator="in" result="thr2"/><feFlood flood-color="#194bae" result="fc"/><feComposite in="fc" in2="thr2" operator="in" result="strands"/><feFlood flood-color="#071c46" flood-opacity="0.8" result="fl"/><feComposite in="fl" in2="shape" operator="in" result="base"/><feMerge result="mg"><feMergeNode in="base"/><feMergeNode in="strands"/></feMerge><feGaussianBlur stdDeviation="0.35"/></filter>
<g transform="rotate(-10 374.20 148.00)"><ellipse cx="374.20" cy="148.00" rx="28.80" ry="26.80" fill="url(#rg17)" filter="url(#bf17)"/></g>
<ellipse cx="374.30" cy="147.30" rx="9.03" ry="8.55" fill="#03100e" opacity="0.55" filter="url(#fBlur)"/>
<radialGradient id="rg18"><stop offset="0" stop-color="#fff"/><stop offset="0.5" stop-color="#fff"/><stop offset="1" stop-color="#fff" stop-opacity="0.45"/></radialGradient>
<filter id="bf18" x="-15%" y="-15%" width="130%" height="130%" color-interpolation-filters="sRGB"><feTurbulence type="fractalNoise" baseFrequency="0.07" numOctaves="2" seed="88" result="lf"/><feDisplacementMap in="SourceGraphic" in2="lf" scale="5" xChannelSelector="R" yChannelSelector="G" result="shape"/><feTurbulence type="fractalNoise" baseFrequency="0.16 0.40" numOctaves="2" seed="85" result="n"/><feColorMatrix in="n" type="matrix" values="0 0 0 0 0 0 0 0 0 0 0 0 0 0 0 1 0 0 0 0" result="m0"/><feComposite in="m0" in2="shape" operator="arithmetic" k1="1" k2="0" k3="0" k4="0" result="c"/><feColorMatrix in="c" type="matrix" values="0 0 0 0 0 0 0 0 0 0 0 0 0 0 0 0 0 0 9 -3.6" result="thr"/><feComposite in="thr" in2="shape" operator="in" result="thr2"/><feFlood flood-color="#26e074" result="fc"/><feComposite in="fc" in2="thr2" operator="in" result="strands"/><feFlood flood-color="#0a5a3a" flood-opacity="0.55" result="fl"/><feComposite in="fl" in2="shape" operator="in" result="base"/><feMerge result="mg"><feMergeNode in="base"/><feMergeNode in="strands"/></feMerge><feGaussianBlur stdDeviation="0.3"/></filter>
<g transform="rotate(-10 374.30 147.30)"><ellipse cx="374.30" cy="147.30" rx="10.45" ry="9.90" fill="url(#rg18)" filter="url(#bf18)"/></g>
<rect x="350.50" y="179.90" width="47.40" height="0.80" fill="#a8a8a8"/>
<text x="374.20" y="179.20" font-size="3.4" text-anchor="middle" fill="#c8c8c8" opacity="0.85">600 µm</text>
</g>
<clipPath id="t14"><rect x="412.40" y="116.10" width="69.20" height="68.20"/></clipPath>
<g clip-path="url(#t14)">
<rect x="412.40" y="116.10" width="69.20" height="68.20" fill="#020c18"/>
<radialGradient id="rg19"><stop offset="0" stop-color="#fff"/><stop offset="0.8" stop-color="#fff"/><stop offset="1" stop-color="#fff" stop-opacity="0.88"/></radialGradient>
<filter id="bf19" x="-15%" y="-15%" width="130%" height="130%" color-interpolation-filters="sRGB"><feTurbulence type="fractalNoise" baseFrequency="0.07" numOctaves="2" seed="40" result="lf"/><feDisplacementMap in="SourceGraphic" in2="lf" scale="3" xChannelSelector="R" yChannelSelector="G" result="shape"/><feTurbulence type="fractalNoise" baseFrequency="0.07 0.22" numOctaves="2" seed="37" result="n"/><feColorMatrix in="n" type="matrix" values="0 0 0 0 0 0 0 0 0 0 0 0 0 0 0 1 0 0 0 0" result="m0"/><feComposite in="m0" in2="shape" operator="arithmetic" k1="1" k2="0" k3="0" k4="0" result="c"/><feComponentTransfer in="c" result="thr"><feFuncA type="table" tableValues="0 0 0 0 0 0 0.4 1 0.4 0 0 0 0 0 0"/></feComponentTransfer><feComposite in="thr" in2="shape" operator="in" result="thr2"/><feFlood flood-color="#194bae" result="fc"/><feComposite in="fc" in2="thr2" operator="in" result="strands"/><feFlood flood-color="#061a40" flood-opacity="0.8" result="fl"/><feComposite in="fl" in2="shape" operator="in" result="base"/><feMerge result="mg"><feMergeNode in="base"/><feMergeNode in="strands"/></feMerge><feGaussianBlur stdDeviation="0.35"/></filter>
<g transform="rotate(35 446.70 148.30)"><ellipse cx="446.70" cy="148.30" rx="28.00" ry="26.60" fill="url(#rg19)" filter="url(#bf19)"/></g>
<path d="M412.4 173.5 L416.5 175 L421 180 L423.5 184.3 L412.4 184.3Z" fill="#194bae" opacity="0.85"/>
<rect x="423.60" y="180.60" width="48.70" height="0.80" fill="#a8a8a8"/>
<text x="447.95" y="179.90" font-size="3.4" text-anchor="middle" fill="#c8c8c8" opacity="0.85">600 µm</text>
</g>
<clipPath id="t15"><rect x="485.00" y="115.60" width="68.60" height="68.70"/></clipPath>
<g clip-path="url(#t15)">
<rect x="485.00" y="115.60" width="68.60" height="68.70" fill="#030e18"/>
<radialGradient id="rg20"><stop offset="0" stop-color="#fff"/><stop offset="0.85" stop-color="#fff"/><stop offset="1" stop-color="#fff" stop-opacity="0.85"/></radialGradient>
<filter id="bf20" x="-15%" y="-15%" width="130%" height="130%" color-interpolation-filters="sRGB"><feTurbulence type="fractalNoise" baseFrequency="0.07" numOctaves="2" seed="42" result="lf"/><feDisplacementMap in="SourceGraphic" in2="lf" scale="3" xChannelSelector="R" yChannelSelector="G" result="shape"/><feTurbulence type="fractalNoise" baseFrequency="0.30" numOctaves="2" seed="39" result="n"/><feColorMatrix in="n" type="matrix" values="0 0 0 0 0 0 0 0 0 0 0 0 0 0 0 1 0 0 0 0" result="m0"/><feComposite in="m0" in2="shape" operator="arithmetic" k1="1" k2="0" k3="0" k4="0" result="c"/><feComponentTransfer in="c" result="thr"><feFuncA type="table" tableValues="0 0 0 0 0 0 0.45 1 0.45 0 0 0 0 0 0"/></feComponentTransfer><feComposite in="thr" in2="shape" operator="in" result="thr2"/><feFlood flood-color="#18459e" result="fc"/><feComposite in="fc" in2="thr2" operator="in" result="strands"/><feFlood flood-color="#091f4a" flood-opacity="1" result="fl"/><feComposite in="fl" in2="shape" operator="in" result="base"/><feMerge result="mg"><feMergeNode in="base"/><feMergeNode in="strands"/></feMerge><feGaussianBlur stdDeviation="0.35"/></filter>
<g><ellipse cx="520.00" cy="149.40" rx="28.60" ry="27.60" fill="url(#rg20)" filter="url(#bf20)"/></g>
<ellipse cx="518.70" cy="149.40" rx="6.65" ry="6.65" fill="#03100e" opacity="0.55" filter="url(#fBlur)"/>
<radialGradient id="rg21"><stop offset="0" stop-color="#fff"/><stop offset="0.5" stop-color="#fff"/><stop offset="1" stop-color="#fff" stop-opacity="0.45"/></radialGradient>
<filter id="bf21" x="-15%" y="-15%" width="130%" height="130%" color-interpolation-filters="sRGB"><feTurbulence type="fractalNoise" baseFrequency="0.07" numOctaves="2" seed="92" result="lf"/><feDisplacementMap in="SourceGraphic" in2="lf" scale="5" xChannelSelector="R" yChannelSelector="G" result="shape"/><feTurbulence type="fractalNoise" baseFrequency="0.16 0.40" numOctaves="2" seed="89" result="n"/><feColorMatrix in="n" type="matrix" values="0 0 0 0 0 0 0 0 0 0 0 0 0 0 0 1 0 0 0 0" result="m0"/><feComposite in="m0" in2="shape" operator="arithmetic" k1="1" k2="0" k3="0" k4="0" result="c"/><feColorMatrix in="c" type="matrix" values="0 0 0 0 0 0 0 0 0 0 0 0 0 0 0 0 0 0 9 -3.6" result="thr"/><feComposite in="thr" in2="shape" operator="in" result="thr2"/><feFlood flood-color="#26e074" result="fc"/><feComposite in="fc" in2="thr2" operator="in" result="strands"/><feFlood flood-color="#0a5a3a" flood-opacity="0.55" result="fl"/><feComposite in="fl" in2="shape" operator="in" result="base"/><feMerge result="mg"><feMergeNode in="base"/><feMergeNode in="strands"/></feMerge><feGaussianBlur stdDeviation="0.3"/></filter>
<g><ellipse cx="518.70" cy="149.40" rx="7.70" ry="7.70" fill="url(#rg21)" filter="url(#bf21)"/></g>
<rect x="496.20" y="179.40" width="46.20" height="0.80" fill="#a8a8a8"/>
<text x="519.30" y="178.70" font-size="3.4" text-anchor="middle" fill="#c8c8c8" opacity="0.85">600 µm</text>
</g>
<clipPath id="t16"><rect x="557.90" y="115.60" width="68.90" height="68.70"/></clipPath>
<g clip-path="url(#t16)">
<rect x="557.90" y="115.60" width="68.90" height="68.70" fill="#06063a"/>
<radialGradient id="rg22"><stop offset="0" stop-color="#fff"/><stop offset="0.8" stop-color="#fff"/><stop offset="1" stop-color="#fff" stop-opacity="0.8"/></radialGradient>
<filter id="bf22" x="-15%" y="-15%" width="130%" height="130%" color-interpolation-filters="sRGB"><feTurbulence type="fractalNoise" baseFrequency="0.07" numOctaves="2" seed="44" result="lf"/><feDisplacementMap in="SourceGraphic" in2="lf" scale="4" xChannelSelector="R" yChannelSelector="G" result="shape"/><feTurbulence type="fractalNoise" baseFrequency="0.3" numOctaves="2" seed="41" result="n"/><feColorMatrix in="n" type="matrix" values="0 0 0 0 0 0 0 0 0 0 0 0 0 0 0 1 0 0 0 0" result="m0"/><feComposite in="m0" in2="shape" operator="arithmetic" k1="1" k2="0" k3="0" k4="0" result="c"/><feColorMatrix in="c" type="matrix" values="0 0 0 0 0 0 0 0 0 0 0 0 0 0 0 0 0 0 -5 3.25" result="thr"/><feComposite in="thr" in2="shape" operator="in" result="thr2"/><feFlood flood-color="#0f0f90" result="fc"/><feComposite in="fc" in2="thr2" operator="in" result="strands"/><feFlood flood-color="#080844" flood-opacity="0.9" result="fl"/><feComposite in="fl" in2="shape" operator="in" result="base"/><feMerge result="mg"><feMergeNode in="base"/><feMergeNode in="strands"/></feMerge><feGaussianBlur stdDeviation="0.35"/></filter>
<g><ellipse cx="592.80" cy="147.50" rx="29.40" ry="28.60" fill="url(#rg22)" filter="url(#bf22)"/></g>
<ellipse cx="592.80" cy="149.00" rx="16.52" ry="14.89" fill="#020c14" opacity="0.92"/>
<radialGradient id="rg23"><stop offset="0" stop-color="#fff"/><stop offset="0.7" stop-color="#fff"/><stop offset="1" stop-color="#fff" stop-opacity="0.7"/></radialGradient>
<filter id="bf23" x="-15%" y="-15%" width="130%" height="130%" color-interpolation-filters="sRGB"><feTurbulence type="fractalNoise" baseFrequency="0.07" numOctaves="2" seed="94" result="lf"/><feDisplacementMap in="SourceGraphic" in2="lf" scale="4" xChannelSelector="R" yChannelSelector="G" result="shape"/><feTurbulence type="fractalNoise" baseFrequency="0.2" numOctaves="2" seed="91" result="n"/><feColorMatrix in="n" type="matrix" values="0 0 0 0 0 0 0 0 0 0 0 0 0 0 0 1 0 0 0 0" result="m0"/><feComposite in="m0" in2="shape" operator="arithmetic" k1="1" k2="0" k3="0" k4="0" result="c"/><feColorMatrix in="c" type="matrix" values="0 0 0 0 0 0 0 0 0 0 0 0 0 0 0 0 0 0 9 -3.9" result="thr"/><feComposite in="thr" in2="shape" operator="in" result="thr2"/><feFlood flood-color="#24c488" result="fc"/><feComposite in="fc" in2="thr2" operator="in" result="strands"/><feGaussianBlur stdDeviation="0.3"/></filter>
<g><ellipse cx="592.80" cy="149.00" rx="16.20" ry="14.60" fill="url(#rg23)" filter="url(#bf23)"/></g>
<radialGradient id="rg24"><stop offset="0" stop-color="#fff"/><stop offset="0.7" stop-color="#fff"/><stop offset="1" stop-color="#fff" stop-opacity="0.7"/></radialGradient>
<filter id="bf24" x="-15%" y="-15%" width="130%" height="130%" color-interpolation-filters="sRGB"><feTurbulence type="fractalNoise" baseFrequency="0.07" numOctaves="2" seed="95" result="lf"/><feDisplacementMap in="SourceGraphic" in2="lf" scale="4" xChannelSelector="R" yChannelSelector="G" result="shape"/><feTurbulence type="fractalNoise" baseFrequency="0.3" numOctaves="2" seed="92" result="n"/><feColorMatrix in="n" type="matrix" values="0 0 0 0 0 0 0 0 0 0 0 0 0 0 0 1 0 0 0 0" result="m0"/><feComposite in="m0" in2="shape" operator="arithmetic" k1="1" k2="0" k3="0" k4="0" result="c"/><feColorMatrix in="c" type="matrix" values="0 0 0 0 0 0 0 0 0 0 0 0 0 0 0 0 0 0 10 -5.4" result="thr"/><feComposite in="thr" in2="shape" operator="in" result="thr2"/><feFlood flood-color="#dcffc4" result="fc"/><feComposite in="fc" in2="thr2" operator="in" result="strands"/><feGaussianBlur stdDeviation="0.3"/></filter>
<g><ellipse cx="592.80" cy="149.00" rx="15.39" ry="13.87" fill="url(#rg24)" filter="url(#bf24)"/></g>
<rect x="564.90" y="178.15" width="59.40" height="2.30" fill="#ffffff"/>
<text x="594.60" y="177.45" font-size="2.0" text-anchor="middle" fill="#c8c8c8" opacity="0.85">600 µm</text>
</g>
<clipPath id="t17"><rect x="630.00" y="115.60" width="69.10" height="68.70"/></clipPath>
<g clip-path="url(#t17)">
<rect x="630.00" y="115.60" width="69.10" height="68.70" fill="#05082a"/>
<radialGradient id="rg25"><stop offset="0" stop-color="#fff"/><stop offset="0.8" stop-color="#fff"/><stop offset="1" stop-color="#fff" stop-opacity="0.8"/></radialGradient>
<filter id="bf25" x="-15%" y="-15%" width="130%" height="130%" color-interpolation-filters="sRGB"><feTurbulence type="fractalNoise" baseFrequency="0.07" numOctaves="2" seed="46" result="lf"/><feDisplacementMap in="SourceGraphic" in2="lf" scale="4" xChannelSelector="R" yChannelSelector="G" result="shape"/><feTurbulence type="fractalNoise" baseFrequency="0.34" numOctaves="2" seed="43" result="n"/><feColorMatrix in="n" type="matrix" values="0 0 0 0 0 0 0 0 0 0 0 0 0 0 0 1 0 0 0 0" result="m0"/><feComposite in="m0" in2="shape" operator="arithmetic" k1="1" k2="0" k3="0" k4="0" result="c"/><feColorMatrix in="c" type="matrix" values="0 0 0 0 0 0 0 0 0 0 0 0 0 0 0 0 0 0 -5 2.775" result="thr"/><feComposite in="thr" in2="shape" operator="in" result="thr2"/><feFlood flood-color="#0f1380" result="fc"/><feComposite in="fc" in2="thr2" operator="in" result="strands"/><feFlood flood-color="#060a2c" flood-opacity="0.9" result="fl"/><feComposite in="fl" in2="shape" operator="in" result="base"/><feMerge result="mg"><feMergeNode in="base"/><feMergeNode in="strands"/></feMerge><feGaussianBlur stdDeviation="0.35"/></filter>
<g><ellipse cx="664.60" cy="148.20" rx="29.00" ry="27.80" fill="url(#rg25)" filter="url(#bf25)"/></g>
<ellipse cx="663.00" cy="149.00" rx="15.75" ry="11.05" fill="#03070c" opacity="0.9" transform="rotate(-42 663.00 149.00)" filter="url(#fBlur)"/>
<radialGradient id="rg26"><stop offset="0" stop-color="#fff"/><stop offset="0.5" stop-color="#fff"/><stop offset="1" stop-color="#fff" stop-opacity="0.6"/></radialGradient>
<filter id="bf26" x="-15%" y="-15%" width="130%" height="130%" color-interpolation-filters="sRGB"><feTurbulence type="fractalNoise" baseFrequency="0.07" numOctaves="2" seed="96" result="lf"/><feDisplacementMap in="SourceGraphic" in2="lf" scale="3" xChannelSelector="R" yChannelSelector="G" result="shape"/><feTurbulence type="fractalNoise" baseFrequency="0.14 0.4" numOctaves="2" seed="93" result="n"/><feColorMatrix in="n" type="matrix" values="0 0 0 0 0 0 0 0 0 0 0 0 0 0 0 1 0 0 0 0" result="m0"/><feComposite in="m0" in2="shape" operator="arithmetic" k1="1" k2="0" k3="0" k4="0" result="c"/><feColorMatrix in="c" type="matrix" values="0 0 0 0 0 0 0 0 0 0 0 0 0 0 0 0 0 0 9 -3.7" result="thr"/><feComposite in="thr" in2="shape" operator="in" result="thr2"/><feFlood flood-color="#2cc890" result="fc"/><feComposite in="fc" in2="thr2" operator="in" result="strands"/><feGaussianBlur stdDeviation="0.3"/></filter>
<g transform="rotate(-42 663.00 149.00)"><ellipse cx="663.00" cy="149.00" rx="10.50" ry="6.50" fill="url(#rg26)" filter="url(#bf26)"/></g>
<radialGradient id="rg27"><stop offset="0" stop-color="#fff"/><stop offset="0.5" stop-color="#fff"/><stop offset="1" stop-color="#fff" stop-opacity="0.6"/></radialGradient>
<filter id="bf27" x="-15%" y="-15%" width="130%" height="130%" color-interpolation-filters="sRGB"><feTurbulence type="fractalNoise" baseFrequency="0.07" numOctaves="2" seed="97" result="lf"/><feDisplacementMap in="SourceGraphic" in2="lf" scale="3" xChannelSelector="R" yChannelSelector="G" result="shape"/><feTurbulence type="fractalNoise" baseFrequency="0.16 0.45" numOctaves="2" seed="94" result="n"/><feColorMatrix in="n" type="matrix" values="0 0 0 0 0 0 0 0 0 0 0 0 0 0 0 1 0 0 0 0" result="m0"/><feComposite in="m0" in2="shape" operator="arithmetic" k1="1" k2="0" k3="0" k4="0" result="c"/><feColorMatrix in="c" type="matrix" values="0 0 0 0 0 0 0 0 0 0 0 0 0 0 0 0 0 0 10 -5.3" result="thr"/><feComposite in="thr" in2="shape" operator="in" result="thr2"/><feFlood flood-color="#e8ffd0" result="fc"/><feComposite in="fc" in2="thr2" operator="in" result="strands"/><feGaussianBlur stdDeviation="0.3"/></filter>
<g transform="rotate(-42 663.00 149.00)"><ellipse cx="663.00" cy="149.00" rx="9.45" ry="5.85" fill="url(#rg27)" filter="url(#bf27)"/></g>
<rect x="641.00" y="180.10" width="54.40" height="1.80" fill="#f4f4f4"/>
<text x="668.20" y="179.40" font-size="2.0" text-anchor="middle" fill="#c8c8c8" opacity="0.85">600 µm</text>
</g>
<clipPath id="t18"><rect x="702.40" y="115.40" width="68.90" height="69.40"/></clipPath>
<g clip-path="url(#t18)">
<rect x="702.40" y="115.40" width="68.90" height="69.40" fill="#05053a"/>
<radialGradient id="rg28"><stop offset="0" stop-color="#fff"/><stop offset="0.85" stop-color="#fff"/><stop offset="1" stop-color="#fff" stop-opacity="0.85"/></radialGradient>
<filter id="bf28" x="-15%" y="-15%" width="130%" height="130%" color-interpolation-filters="sRGB"><feTurbulence type="fractalNoise" baseFrequency="0.07" numOctaves="2" seed="48" result="lf"/><feDisplacementMap in="SourceGraphic" in2="lf" scale="4" xChannelSelector="R" yChannelSelector="G" result="shape"/><feTurbulence type="fractalNoise" baseFrequency="0.22" numOctaves="2" seed="45" result="n"/><feColorMatrix in="n" type="matrix" values="0 0 0 0 0 0 0 0 0 0 0 0 0 0 0 1 0 0 0 0" result="m0"/><feComposite in="m0" in2="shape" operator="arithmetic" k1="1" k2="0" k3="0" k4="0" result="c"/><feColorMatrix in="c" type="matrix" values="0 0 0 0 0 0 0 0 0 0 0 0 0 0 0 0 0 0 -7 4.3500000000000005" result="thr"/><feComposite in="thr" in2="shape" operator="in" result="thr2"/><feFlood flood-color="#1313ac" result="fc"/><feComposite in="fc" in2="thr2" operator="in" result="strands"/><feFlood flood-color="#090940" flood-opacity="0.9" result="fl"/><feComposite in="fl" in2="shape" operator="in" result="base"/><feMerge result="mg"><feMergeNode in="base"/><feMergeNode in="strands"/></feMerge><feGaussianBlur stdDeviation="0.35"/></filter>
<g><ellipse cx="737.50" cy="147.20" rx="28.00" ry="27.20" fill="url(#rg28)" filter="url(#bf28)"/></g>
<rect x="710.90" y="178.90" width="55.70" height="1.80" fill="#f4f4f4"/>
<text x="738.75" y="178.20" font-size="2.0" text-anchor="middle" fill="#c8c8c8" opacity="0.85">600 µm</text>
</g>
</g>
<g id="panelB">
<text x="4.50" y="206.60" font-size="22.8" font-weight="700" stroke="#000" stroke-width="0.3" textLength="21.60" lengthAdjust="spacingAndGlyphs">B.</text>
<text x="12.30" y="409.80" font-size="15" font-weight="700" stroke="#000" stroke-width="0.3" textLength="183.60" lengthAdjust="spacingAndGlyphs" transform="rotate(-90 12.30 409.80)">EF5 fluorescence intensity</text>
<text x="28.90" y="388.60" font-size="14.3" font-weight="700" stroke="#000" stroke-width="0.3" textLength="143.60" lengthAdjust="spacingAndGlyphs" transform="rotate(-90 28.90 388.60)">relative to DMSO (%)</text>
<text x="57.10" y="414.00" font-size="13.6" font-weight="700" stroke="#000" stroke-width="0.3" text-anchor="end">0</text>
<line x1="59.00" y1="410.00" x2="64.10" y2="410.00" stroke="#000" stroke-width="1.3"/>
<text x="57.10" y="369.60" font-size="13.6" font-weight="700" stroke="#000" stroke-width="0.3" text-anchor="end">25</text>
<line x1="59.00" y1="365.60" x2="64.10" y2="365.60" stroke="#000" stroke-width="1.3"/>
<text x="57.10" y="325.20" font-size="13.6" font-weight="700" stroke="#000" stroke-width="0.3" text-anchor="end">50</text>
<line x1="59.00" y1="321.20" x2="64.10" y2="321.20" stroke="#000" stroke-width="1.3"/>
<text x="57.10" y="280.80" font-size="13.6" font-weight="700" stroke="#000" stroke-width="0.3" text-anchor="end">75</text>
<line x1="59.00" y1="276.80" x2="64.10" y2="276.80" stroke="#000" stroke-width="1.3"/>
<text x="57.10" y="236.40" font-size="13.6" font-weight="700" stroke="#000" stroke-width="0.3" text-anchor="end">100</text>
<line x1="59.00" y1="232.40" x2="64.10" y2="232.40" stroke="#000" stroke-width="1.3"/>
<line x1="64.10" y1="232.40" x2="64.10" y2="410.65" stroke="#000" stroke-width="1.4"/>
<line x1="59.00" y1="410.00" x2="418.60" y2="410.00" stroke="#000" stroke-width="1.4"/>
<line x1="84.50" y1="410.00" x2="84.50" y2="415.20" stroke="#000" stroke-width="1.3"/>
<text x="84.50" y="430.30" font-size="14" font-weight="700" stroke="#000" stroke-width="0.3" text-anchor="middle" textLength="40.00" lengthAdjust="spacingAndGlyphs">DMSO</text>
<rect x="68.50" y="232.90" width="7.20" height="177.10" fill="#5b1272" stroke="#160818" stroke-width="1.0"/>
<rect x="80.90" y="232.90" width="7.20" height="177.10" fill="#5a5ba2" stroke="#14142c" stroke-width="1.0"/>
<rect x="93.30" y="232.90" width="7.20" height="177.10" fill="#3a9ab0" stroke="#0a2028" stroke-width="1.0"/>
<line x1="129.30" y1="410.00" x2="129.30" y2="415.20" stroke="#000" stroke-width="1.3"/>
<text x="129.30" y="430.30" font-size="14" font-weight="700" stroke="#000" stroke-width="0.3" text-anchor="middle" textLength="14.40" lengthAdjust="spacingAndGlyphs">12</text>
<text x="117.10" y="407.30" font-size="8.4" text-anchor="middle" textLength="12.80" lengthAdjust="spacingAndGlyphs" stroke="#000" stroke-width="0.2">****</text>
<text x="129.50" y="407.30" font-size="8.4" text-anchor="middle" textLength="12.80" lengthAdjust="spacingAndGlyphs" stroke="#000" stroke-width="0.2">****</text>
<line x1="141.70" y1="363.65" x2="141.70" y2="371.11" stroke="#111" stroke-width="1.1"/>
<line x1="139.00" y1="363.65" x2="144.40" y2="363.65" stroke="#111" stroke-width="1.1"/>
<rect x="138.10" y="371.61" width="7.20" height="38.39" fill="#3a9ab0" stroke="#0a2028" stroke-width="1.0"/>
<text x="142.30" y="362.25" font-size="8.4" text-anchor="middle" textLength="12.80" lengthAdjust="spacingAndGlyphs" stroke="#000" stroke-width="0.2">****</text>
<line x1="174.10" y1="410.00" x2="174.10" y2="415.20" stroke="#000" stroke-width="1.3"/>
<text x="174.10" y="430.30" font-size="14" font-weight="700" stroke="#000" stroke-width="0.3" text-anchor="middle" textLength="14.40" lengthAdjust="spacingAndGlyphs">28</text>
<line x1="161.70" y1="391.17" x2="161.70" y2="399.52" stroke="#111" stroke-width="1.1"/>
<line x1="159.00" y1="391.17" x2="164.40" y2="391.17" stroke="#111" stroke-width="1.1"/>
<rect x="158.10" y="400.02" width="7.20" height="9.98" fill="#5b1272" stroke="#160818" stroke-width="1.0"/>
<text x="162.30" y="389.77" font-size="8.4" text-anchor="middle" textLength="12.80" lengthAdjust="spacingAndGlyphs" stroke="#000" stroke-width="0.2">****</text>
<line x1="174.10" y1="398.63" x2="174.10" y2="400.41" stroke="#111" stroke-width="1.1"/>
<line x1="171.40" y1="398.63" x2="176.80" y2="398.63" stroke="#111" stroke-width="1.1"/>
<rect x="170.50" y="400.91" width="7.20" height="9.09" fill="#5a5ba2" stroke="#14142c" stroke-width="1.0"/>
<text x="174.70" y="397.23" font-size="8.4" text-anchor="middle" textLength="12.80" lengthAdjust="spacingAndGlyphs" stroke="#000" stroke-width="0.2">****</text>
<line x1="186.50" y1="374.84" x2="186.50" y2="377.32" stroke="#111" stroke-width="1.1"/>
<line x1="183.80" y1="374.84" x2="189.20" y2="374.84" stroke="#111" stroke-width="1.1"/>
<rect x="182.90" y="377.82" width="7.20" height="32.18" fill="#3a9ab0" stroke="#0a2028" stroke-width="1.0"/>
<text x="187.10" y="373.44" font-size="8.4" text-anchor="middle" textLength="12.80" lengthAdjust="spacingAndGlyphs" stroke="#000" stroke-width="0.2">****</text>
<line x1="218.90" y1="410.00" x2="218.90" y2="415.20" stroke="#000" stroke-width="1.3"/>
<text x="218.90" y="430.30" font-size="14" font-weight="700" stroke="#000" stroke-width="0.3" text-anchor="middle" textLength="14.40" lengthAdjust="spacingAndGlyphs">35</text>
<text x="206.70" y="407.30" font-size="8.4" text-anchor="middle" textLength="12.80" lengthAdjust="spacingAndGlyphs" stroke="#000" stroke-width="0.2">****</text>
<line x1="218.90" y1="404.49" x2="218.90" y2="406.98" stroke="#111" stroke-width="1.1"/>
<line x1="216.20" y1="404.49" x2="221.60" y2="404.49" stroke="#111" stroke-width="1.1"/>
<rect x="215.30" y="407.48" width="7.20" height="2.52" fill="#5a5ba2" stroke="#14142c" stroke-width="1.0"/>
<text x="219.50" y="403.09" font-size="8.4" text-anchor="middle" textLength="12.80" lengthAdjust="spacingAndGlyphs" stroke="#000" stroke-width="0.2">****</text>
<line x1="231.30" y1="379.10" x2="231.30" y2="386.91" stroke="#111" stroke-width="1.1"/>
<line x1="228.60" y1="379.10" x2="234.00" y2="379.10" stroke="#111" stroke-width="1.1"/>
<rect x="227.70" y="387.41" width="7.20" height="22.59" fill="#3a9ab0" stroke="#0a2028" stroke-width="1.0"/>
<text x="231.90" y="377.70" font-size="8.4" text-anchor="middle" textLength="12.80" lengthAdjust="spacingAndGlyphs" stroke="#000" stroke-width="0.2">****</text>
<line x1="263.70" y1="410.00" x2="263.70" y2="415.20" stroke="#000" stroke-width="1.3"/>
<text x="263.70" y="430.30" font-size="14" font-weight="700" stroke="#000" stroke-width="0.3" text-anchor="middle" textLength="14.40" lengthAdjust="spacingAndGlyphs">48</text>
<line x1="251.30" y1="381.05" x2="251.30" y2="396.15" stroke="#111" stroke-width="1.1"/>
<line x1="248.60" y1="381.05" x2="254.00" y2="381.05" stroke="#111" stroke-width="1.1"/>
<rect x="247.70" y="396.65" width="7.20" height="13.35" fill="#5b1272" stroke="#160818" stroke-width="1.0"/>
<text x="251.90" y="379.65" font-size="8.4" text-anchor="middle" textLength="12.80" lengthAdjust="spacingAndGlyphs" stroke="#000" stroke-width="0.2">****</text>
<line x1="263.70" y1="392.95" x2="263.70" y2="400.59" stroke="#111" stroke-width="1.1"/>
<line x1="261.00" y1="392.95" x2="266.40" y2="392.95" stroke="#111" stroke-width="1.1"/>
<rect x="260.10" y="401.09" width="7.20" height="8.91" fill="#5a5ba2" stroke="#14142c" stroke-width="1.0"/>
<text x="264.30" y="391.55" font-size="8.4" text-anchor="middle" textLength="12.80" lengthAdjust="spacingAndGlyphs" stroke="#000" stroke-width="0.2">****</text>
<line x1="276.10" y1="312.14" x2="276.10" y2="324.75" stroke="#111" stroke-width="1.1"/>
<line x1="273.40" y1="312.14" x2="278.80" y2="312.14" stroke="#111" stroke-width="1.1"/>
<rect x="272.50" y="325.25" width="7.20" height="84.75" fill="#3a9ab0" stroke="#0a2028" stroke-width="1.0"/>
<text x="276.70" y="310.74" font-size="8.4" text-anchor="middle" textLength="12.80" lengthAdjust="spacingAndGlyphs" stroke="#000" stroke-width="0.2">****</text>
<line x1="308.50" y1="410.00" x2="308.50" y2="415.20" stroke="#000" stroke-width="1.3"/>
<text x="308.50" y="430.30" font-size="14" font-weight="700" stroke="#000" stroke-width="0.3" text-anchor="middle" textLength="14.40" lengthAdjust="spacingAndGlyphs">66</text>
<line x1="296.10" y1="406.45" x2="296.10" y2="409.29" stroke="#111" stroke-width="1.1"/>
<line x1="293.40" y1="406.45" x2="298.80" y2="406.45" stroke="#111" stroke-width="1.1"/>
<rect x="292.50" y="409.79" width="7.20" height="0.21" fill="#5b1272" stroke="#160818" stroke-width="1.0"/>
<text x="296.70" y="405.05" font-size="8.4" text-anchor="middle" textLength="12.80" lengthAdjust="spacingAndGlyphs" stroke="#000" stroke-width="0.2">****</text>
<line x1="308.50" y1="300.24" x2="308.50" y2="307.88" stroke="#111" stroke-width="1.1"/>
<line x1="305.80" y1="300.24" x2="311.20" y2="300.24" stroke="#111" stroke-width="1.1"/>
<rect x="304.90" y="308.38" width="7.20" height="101.62" fill="#5a5ba2" stroke="#14142c" stroke-width="1.0"/>
<text x="309.10" y="298.84" font-size="8.4" text-anchor="middle" textLength="12.80" lengthAdjust="spacingAndGlyphs" stroke="#000" stroke-width="0.2">****</text>
<line x1="320.90" y1="232.40" x2="320.90" y2="234.89" stroke="#111" stroke-width="1.1"/>
<line x1="318.20" y1="232.40" x2="323.60" y2="232.40" stroke="#111" stroke-width="1.1"/>
<rect x="317.30" y="235.39" width="7.20" height="174.61" fill="#3a9ab0" stroke="#0a2028" stroke-width="1.0"/>
<text x="321.20" y="229.00" font-size="9" text-anchor="middle">ns</text>
<line x1="353.30" y1="410.00" x2="353.30" y2="415.20" stroke="#000" stroke-width="1.3"/>
<text x="353.30" y="430.30" font-size="14" font-weight="700" stroke="#000" stroke-width="0.3" text-anchor="middle" textLength="14.40" lengthAdjust="spacingAndGlyphs">68</text>
<text x="341.10" y="407.30" font-size="8.4" text-anchor="middle" textLength="12.80" lengthAdjust="spacingAndGlyphs" stroke="#000" stroke-width="0.2">****</text>
<line x1="353.30" y1="372.35" x2="353.30" y2="378.56" stroke="#111" stroke-width="1.1"/>
<line x1="350.60" y1="372.35" x2="356.00" y2="372.35" stroke="#111" stroke-width="1.1"/>
<rect x="349.70" y="379.06" width="7.20" height="30.94" fill="#5a5ba2" stroke="#14142c" stroke-width="1.0"/>
<text x="353.90" y="370.95" font-size="8.4" text-anchor="middle" textLength="12.80" lengthAdjust="spacingAndGlyphs" stroke="#000" stroke-width="0.2">****</text>
<line x1="365.70" y1="326.00" x2="365.70" y2="342.16" stroke="#111" stroke-width="1.1"/>
<line x1="363.00" y1="326.00" x2="368.40" y2="326.00" stroke="#111" stroke-width="1.1"/>
<rect x="362.10" y="342.66" width="7.20" height="67.34" fill="#3a9ab0" stroke="#0a2028" stroke-width="1.0"/>
<text x="366.30" y="324.60" font-size="8.4" text-anchor="middle" textLength="12.80" lengthAdjust="spacingAndGlyphs" stroke="#000" stroke-width="0.2">****</text>
<line x1="398.10" y1="410.00" x2="398.10" y2="415.20" stroke="#000" stroke-width="1.3"/>
<text x="398.10" y="430.30" font-size="14" font-weight="700" stroke="#000" stroke-width="0.3" text-anchor="middle" textLength="30.20" lengthAdjust="spacingAndGlyphs">IOX7</text>
<text x="385.90" y="407.30" font-size="8.4" text-anchor="middle" textLength="12.80" lengthAdjust="spacingAndGlyphs" stroke="#000" stroke-width="0.2">****</text>
<text x="398.30" y="407.30" font-size="8.4" text-anchor="middle" textLength="12.80" lengthAdjust="spacingAndGlyphs" stroke="#000" stroke-width="0.2">****</text>
<line x1="410.50" y1="369.15" x2="410.50" y2="376.79" stroke="#111" stroke-width="1.1"/>
<line x1="407.80" y1="369.15" x2="413.20" y2="369.15" stroke="#111" stroke-width="1.1"/>
<rect x="406.90" y="377.29" width="7.20" height="32.71" fill="#3a9ab0" stroke="#0a2028" stroke-width="1.0"/>
<text x="411.10" y="367.75" font-size="8.4" text-anchor="middle" textLength="12.80" lengthAdjust="spacingAndGlyphs" stroke="#000" stroke-width="0.2">****</text>
<rect x="364.50" y="221.50" width="11.50" height="12.80" fill="#5b1272" stroke="#111" stroke-width="1.0"/>
<text x="383.20" y="232.85" font-size="14.6" stroke="#000" stroke-width="0.15" textLength="39.30" lengthAdjust="spacingAndGlyphs">10 <tspan font-family="'Liberation Serif', 'DejaVu Serif', serif" font-size="15.5">μ</tspan>M</text>
<rect x="364.50" y="247.15" width="11.50" height="12.80" fill="#5a5ba2" stroke="#111" stroke-width="1.0"/>
<text x="383.20" y="258.50" font-size="14.6" stroke="#000" stroke-width="0.15" textLength="31.60" lengthAdjust="spacingAndGlyphs">5 <tspan font-family="'Liberation Serif', 'DejaVu Serif', serif" font-size="15.5">μ</tspan>M</text>
<rect x="364.50" y="272.80" width="11.50" height="12.80" fill="#3a9ab0" stroke="#111" stroke-width="1.0"/>
<text x="383.20" y="284.15" font-size="14.6" stroke="#000" stroke-width="0.15" textLength="31.60" lengthAdjust="spacingAndGlyphs">2 <tspan font-family="'Liberation Serif', 'DejaVu Serif', serif" font-size="15.5">μ</tspan>M</text>
</g>
<g id="panelC">
<text x="429.30" y="215.60" font-size="22.8" font-weight="700" stroke="#000" stroke-width="0.3" textLength="21.60" lengthAdjust="spacingAndGlyphs">C.</text>
<text x="459.20" y="406.20" font-size="15" font-weight="700" stroke="#000" stroke-width="0.3" textLength="176.60" lengthAdjust="spacingAndGlyphs" transform="rotate(-90 459.20 406.20)">% Spheroid area relative</text>
<text x="477.90" y="377.40" font-size="15" font-weight="700" stroke="#000" stroke-width="0.3" textLength="118.60" lengthAdjust="spacingAndGlyphs" transform="rotate(-90 477.90 377.40)">to DMSO control</text>
<text x="510.60" y="416.30" font-size="13.8" font-weight="700" stroke="#000" stroke-width="0.3" text-anchor="end">0</text>
<line x1="514.00" y1="411.60" x2="522.30" y2="411.60" stroke="#000" stroke-width="1.6"/>
<text x="510.60" y="363.95" font-size="13.8" font-weight="700" stroke="#000" stroke-width="0.3" text-anchor="end">50</text>
<line x1="514.00" y1="359.25" x2="522.30" y2="359.25" stroke="#000" stroke-width="1.6"/>
<text x="510.60" y="311.60" font-size="13.8" font-weight="700" stroke="#000" stroke-width="0.3" text-anchor="end">100</text>
<line x1="514.00" y1="306.90" x2="522.30" y2="306.90" stroke="#000" stroke-width="1.6"/>
<text x="510.60" y="259.25" font-size="13.8" font-weight="700" stroke="#000" stroke-width="0.3" text-anchor="end">150</text>
<line x1="514.00" y1="254.55" x2="522.30" y2="254.55" stroke="#000" stroke-width="1.6"/>
<line x1="522.30" y1="224.00" x2="522.30" y2="412.45" stroke="#000" stroke-width="1.7"/>
<line x1="514.00" y1="411.60" x2="804.00" y2="411.60" stroke="#000" stroke-width="1.7"/>
<line x1="550.70" y1="237.90" x2="784.00" y2="237.90" stroke="#000" stroke-width="2.4" stroke-linecap="round"/>
<text x="667.40" y="227.60" font-size="14" stroke="#000" stroke-width="0.15" text-anchor="middle" textLength="15.20" lengthAdjust="spacingAndGlyphs">ns</text>
<rect x="532.45" y="308.30" width="15.10" height="103.30" fill="#8eb4dc" stroke="#000" stroke-width="2.8"/>
<line x1="540.00" y1="411.60" x2="540.00" y2="419.80" stroke="#000" stroke-width="1.6"/>
<text x="543.80" y="432.30" font-size="14.6" font-weight="700" stroke="#000" stroke-width="0.3" text-anchor="end" transform="rotate(-45 543.80 432.30)">DMSO</text>
<line x1="567.22" y1="291.40" x2="567.22" y2="304.13" stroke="#7a4a90" stroke-width="1.1"/>
<line x1="562.42" y1="291.40" x2="572.02" y2="291.40" stroke="#7a4a90" stroke-width="1.1"/>
<rect x="559.67" y="304.53" width="15.10" height="107.07" fill="#f0b2e6" stroke="#000" stroke-width="2.8"/>
<line x1="567.22" y1="411.60" x2="567.22" y2="419.80" stroke="#000" stroke-width="1.6"/>
<text x="571.02" y="432.30" font-size="14.6" font-weight="700" stroke="#000" stroke-width="0.3" text-anchor="end" transform="rotate(-45 571.02 432.30)">1</text>
<line x1="594.44" y1="283.97" x2="594.44" y2="291.78" stroke="#a03c70" stroke-width="1.1"/>
<line x1="589.64" y1="283.97" x2="599.24" y2="283.97" stroke="#a03c70" stroke-width="1.1"/>
<rect x="586.89" y="292.18" width="15.10" height="119.42" fill="#c2aaea" stroke="#000" stroke-width="2.8"/>
<line x1="594.44" y1="411.60" x2="594.44" y2="419.80" stroke="#000" stroke-width="1.6"/>
<text x="598.24" y="432.30" font-size="14.6" font-weight="700" stroke="#000" stroke-width="0.3" text-anchor="end" transform="rotate(-45 598.24 432.30)">2</text>
<line x1="621.66" y1="305.12" x2="621.66" y2="335.65" stroke="#2a72a0" stroke-width="1.1"/>
<line x1="616.86" y1="305.12" x2="626.46" y2="305.12" stroke="#2a72a0" stroke-width="1.1"/>
<rect x="614.11" y="336.05" width="15.10" height="75.55" fill="#c4e496" stroke="#000" stroke-width="2.8"/>
<line x1="621.66" y1="411.60" x2="621.66" y2="419.80" stroke="#000" stroke-width="1.6"/>
<text x="625.46" y="432.30" font-size="14.6" font-weight="700" stroke="#000" stroke-width="0.3" text-anchor="end" transform="rotate(-45 625.46 432.30)">12</text>
<line x1="648.88" y1="298.31" x2="648.88" y2="309.99" stroke="#78b880" stroke-width="1.1"/>
<line x1="644.08" y1="298.31" x2="653.68" y2="298.31" stroke="#78b880" stroke-width="1.1"/>
<rect x="641.33" y="310.39" width="15.10" height="101.21" fill="#3292c4" stroke="#000" stroke-width="2.8"/>
<line x1="648.88" y1="411.60" x2="648.88" y2="419.80" stroke="#000" stroke-width="1.6"/>
<text x="652.68" y="432.30" font-size="14.6" font-weight="700" stroke="#000" stroke-width="0.3" text-anchor="end" transform="rotate(-45 652.68 432.30)">28</text>
<line x1="676.10" y1="316.74" x2="676.10" y2="331.98" stroke="#6a4a8c" stroke-width="1.1"/>
<line x1="671.30" y1="316.74" x2="680.90" y2="316.74" stroke="#6a4a8c" stroke-width="1.1"/>
<rect x="668.55" y="332.38" width="15.10" height="79.22" fill="#0e8a7a" stroke="#000" stroke-width="2.8"/>
<line x1="676.10" y1="411.60" x2="676.10" y2="419.80" stroke="#000" stroke-width="1.6"/>
<text x="679.90" y="432.30" font-size="14.6" font-weight="700" stroke="#000" stroke-width="0.3" text-anchor="end" transform="rotate(-45 679.90 432.30)">35</text>
<line x1="703.32" y1="325.01" x2="703.32" y2="339.00" stroke="#c04420" stroke-width="1.1"/>
<line x1="698.52" y1="325.01" x2="708.12" y2="325.01" stroke="#c04420" stroke-width="1.1"/>
<rect x="695.77" y="339.40" width="15.10" height="72.20" fill="#a05404" stroke="#000" stroke-width="2.8"/>
<line x1="703.32" y1="411.60" x2="703.32" y2="419.80" stroke="#000" stroke-width="1.6"/>
<text x="707.12" y="432.30" font-size="14.6" font-weight="700" stroke="#000" stroke-width="0.3" text-anchor="end" transform="rotate(-45 707.12 432.30)">48</text>
<line x1="730.54" y1="275.49" x2="730.54" y2="300.99" stroke="#5a6450" stroke-width="1.1"/>
<line x1="725.74" y1="275.49" x2="735.34" y2="275.49" stroke="#5a6450" stroke-width="1.1"/>
<rect x="722.99" y="301.39" width="15.10" height="110.21" fill="#a2b484" stroke="#000" stroke-width="2.8"/>
<line x1="730.54" y1="411.60" x2="730.54" y2="419.80" stroke="#000" stroke-width="1.6"/>
<text x="734.34" y="432.30" font-size="14.6" font-weight="700" stroke="#000" stroke-width="0.3" text-anchor="end" transform="rotate(-45 734.34 432.30)">66</text>
<line x1="757.76" y1="249.94" x2="757.76" y2="289.26" stroke="#6a4a8c" stroke-width="1.1"/>
<line x1="752.96" y1="249.94" x2="762.56" y2="249.94" stroke="#6a4a8c" stroke-width="1.1"/>
<rect x="750.21" y="289.66" width="15.10" height="121.94" fill="#4c1e90" stroke="#000" stroke-width="2.8"/>
<line x1="757.76" y1="411.60" x2="757.76" y2="419.80" stroke="#000" stroke-width="1.6"/>
<text x="761.56" y="432.30" font-size="14.6" font-weight="700" stroke="#000" stroke-width="0.3" text-anchor="end" transform="rotate(-45 761.56 432.30)">68</text>
<line x1="784.98" y1="277.17" x2="784.98" y2="308.74" stroke="#1c4c84" stroke-width="1.1"/>
<line x1="780.18" y1="277.17" x2="789.78" y2="277.17" stroke="#1c4c84" stroke-width="1.1"/>
<rect x="777.43" y="309.14" width="15.10" height="102.46" fill="#e48484" stroke="#000" stroke-width="2.8"/>
<line x1="784.98" y1="411.60" x2="784.98" y2="419.80" stroke="#000" stroke-width="1.6"/>
<text x="788.78" y="432.30" font-size="14.6" font-weight="700" stroke="#000" stroke-width="0.3" text-anchor="end" transform="rotate(-45 788.78 432.30)">IOX7</text>
<line x1="514.00" y1="411.60" x2="804.00" y2="411.60" stroke="#000" stroke-width="1.7"/>
</g>
<g id="panelD">
<text x="4.50" y="490.60" font-size="22.8" font-weight="700" stroke="#000" stroke-width="0.3" textLength="21.70" lengthAdjust="spacingAndGlyphs">D.</text>
<text x="15.40" y="761.80" font-size="17" font-weight="700" stroke="#000" stroke-width="0.3" textLength="224.80" lengthAdjust="spacingAndGlyphs" transform="rotate(-90 15.40 761.80)">% OCR Relative to Baseline</text>
<text x="47.00" y="762.95" font-size="15.5" font-weight="700" stroke="#000" stroke-width="0.3" text-anchor="end" textLength="20.80" lengthAdjust="spacingAndGlyphs">0.0</text>
<line x1="51.20" y1="757.40" x2="60.45" y2="757.40" stroke="#000" stroke-width="1.9"/>
<text x="47.00" y="720.03" font-size="15.5" font-weight="700" stroke="#000" stroke-width="0.3" text-anchor="end" textLength="20.80" lengthAdjust="spacingAndGlyphs">0.2</text>
<line x1="51.20" y1="714.48" x2="60.45" y2="714.48" stroke="#000" stroke-width="1.9"/>
<text x="47.00" y="677.11" font-size="15.5" font-weight="700" stroke="#000" stroke-width="0.3" text-anchor="end" textLength="20.80" lengthAdjust="spacingAndGlyphs">0.4</text>
<line x1="51.20" y1="671.56" x2="60.45" y2="671.56" stroke="#000" stroke-width="1.9"/>
<text x="47.00" y="634.19" font-size="15.5" font-weight="700" stroke="#000" stroke-width="0.3" text-anchor="end" textLength="20.80" lengthAdjust="spacingAndGlyphs">0.6</text>
<line x1="51.20" y1="628.64" x2="60.45" y2="628.64" stroke="#000" stroke-width="1.9"/>
<text x="47.00" y="591.27" font-size="15.5" font-weight="700" stroke="#000" stroke-width="0.3" text-anchor="end" textLength="20.80" lengthAdjust="spacingAndGlyphs">0.8</text>
<line x1="51.20" y1="585.72" x2="60.45" y2="585.72" stroke="#000" stroke-width="1.9"/>
<text x="47.00" y="548.35" font-size="15.5" font-weight="700" stroke="#000" stroke-width="0.3" text-anchor="end" textLength="20.80" lengthAdjust="spacingAndGlyphs">1.0</text>
<line x1="51.20" y1="542.80" x2="60.45" y2="542.80" stroke="#000" stroke-width="1.9"/>
<line x1="60.45" y1="541.80" x2="60.45" y2="758.35" stroke="#000" stroke-width="2.1"/>
<text x="147.30" y="493.00" font-size="15.7" stroke="#000" stroke-width="0.15" textLength="137.60" lengthAdjust="spacingAndGlyphs">Complex I inhibitors</text>
<text x="309.40" y="485.00" font-size="15.7" stroke="#000" stroke-width="0.15" textLength="100.00" lengthAdjust="spacingAndGlyphs">Complex II, III,</text>
<text x="320.00" y="503.00" font-size="15.7" stroke="#000" stroke-width="0.15" textLength="77.00" lengthAdjust="spacingAndGlyphs">V inhibitors</text>
<path d="M127.8 530.7 V516.2 H298.6 V530.7" fill="none" stroke="#000" stroke-width="2.7" stroke-linecap="round" stroke-linejoin="miter"/>
<path d="M306.6 530.7 V516.2 H379.8 V528.7" fill="none" stroke="#000" stroke-width="2.7" stroke-linecap="round" stroke-linejoin="miter"/>
<text x="90.80" y="520.40" font-size="14" stroke="#000" stroke-width="0.15" text-anchor="middle" textLength="14.60" lengthAdjust="spacingAndGlyphs">ns</text>
<line x1="77.50" y1="530.30" x2="103.80" y2="530.30" stroke="#555" stroke-width="0.9"/>
<line x1="299.60" y1="543.00" x2="299.60" y2="757.00" stroke="#000" stroke-width="2.0" stroke-dasharray="6.6 4.18" stroke-linecap="round"/>
<rect x="70.75" y="568.55" width="14.30" height="188.85" fill="#8eb4dc" stroke="#000" stroke-width="3.0"/>
<line x1="77.90" y1="555.46" x2="77.90" y2="578.64" stroke="#2f6889" stroke-width="1.05"/>
<line x1="73.30" y1="555.46" x2="82.50" y2="555.46" stroke="#2f6889" stroke-width="1.05"/>
<line x1="73.30" y1="578.64" x2="82.50" y2="578.64" stroke="#2f6889" stroke-width="1.05" opacity="0.75"/>
<line x1="77.90" y1="757.40" x2="77.90" y2="766.30" stroke="#000" stroke-width="1.9"/>
<text x="81.80" y="778.50" font-size="16.5" font-weight="700" stroke="#000" stroke-width="0.3" text-anchor="end" transform="rotate(-45 81.80 778.50)">DMSO</text>
<rect x="96.84" y="584.64" width="14.30" height="172.76" fill="#b8a2dc" stroke="#000" stroke-width="3.0"/>
<line x1="103.99" y1="571.34" x2="103.99" y2="594.95" stroke="#563c72" stroke-width="1.05"/>
<line x1="99.39" y1="571.34" x2="108.59" y2="571.34" stroke="#563c72" stroke-width="1.05"/>
<line x1="99.39" y1="594.95" x2="108.59" y2="594.95" stroke="#563c72" stroke-width="1.05" opacity="0.75"/>
<line x1="103.99" y1="757.40" x2="103.99" y2="766.30" stroke="#000" stroke-width="1.9"/>
<text x="107.89" y="778.50" font-size="16.5" font-weight="700" stroke="#000" stroke-width="0.3" text-anchor="end" transform="rotate(-45 107.89 778.50)">2</text>
<rect x="122.93" y="652.46" width="14.30" height="104.94" fill="#f2aaea" stroke="#000" stroke-width="3.0"/>
<line x1="130.08" y1="639.80" x2="130.08" y2="661.47" stroke="#9d4172" stroke-width="1.05"/>
<line x1="125.48" y1="639.80" x2="134.68" y2="639.80" stroke="#9d4172" stroke-width="1.05"/>
<line x1="125.48" y1="661.47" x2="134.68" y2="661.47" stroke="#9d4172" stroke-width="1.05" opacity="0.75"/>
<line x1="130.08" y1="757.40" x2="130.08" y2="766.30" stroke="#000" stroke-width="1.9"/>
<text x="133.98" y="778.50" font-size="16.5" font-weight="700" stroke="#000" stroke-width="0.3" text-anchor="end" transform="rotate(-45 133.98 778.50)">1</text>
<text x="130.88" y="635.40" font-size="16" text-anchor="middle" textLength="19.20" lengthAdjust="spacingAndGlyphs" stroke="#000" stroke-width="0.2">***</text>
<rect x="149.02" y="712.12" width="14.30" height="45.28" fill="#c8e49c" stroke="#000" stroke-width="3.0"/>
<line x1="156.17" y1="708.90" x2="156.17" y2="712.33" stroke="#569372" stroke-width="1.05"/>
<line x1="151.57" y1="708.90" x2="160.77" y2="708.90" stroke="#569372" stroke-width="1.05"/>
<line x1="151.57" y1="712.33" x2="160.77" y2="712.33" stroke="#569372" stroke-width="1.05" opacity="0.75"/>
<line x1="156.17" y1="757.40" x2="156.17" y2="766.30" stroke="#000" stroke-width="1.9"/>
<text x="160.07" y="778.50" font-size="16.5" font-weight="700" stroke="#000" stroke-width="0.3" text-anchor="end" transform="rotate(-45 160.07 778.50)">12</text>
<text x="156.97" y="706.00" font-size="16" text-anchor="middle" textLength="19.20" lengthAdjust="spacingAndGlyphs" stroke="#000" stroke-width="0.2">***</text>
<rect x="175.11" y="707.61" width="14.30" height="49.79" fill="#2a9aba" stroke="#000" stroke-width="3.0"/>
<line x1="182.26" y1="701.39" x2="182.26" y2="708.26" stroke="#22647f" stroke-width="1.05"/>
<line x1="177.66" y1="701.39" x2="186.86" y2="701.39" stroke="#22647f" stroke-width="1.05"/>
<line x1="177.66" y1="708.26" x2="186.86" y2="708.26" stroke="#22647f" stroke-width="1.05" opacity="0.75"/>
<line x1="182.26" y1="757.40" x2="182.26" y2="766.30" stroke="#000" stroke-width="1.9"/>
<text x="186.16" y="778.50" font-size="16.5" font-weight="700" stroke="#000" stroke-width="0.3" text-anchor="end" transform="rotate(-45 186.16 778.50)">35</text>
<text x="183.06" y="697.50" font-size="16" text-anchor="middle" textLength="19.20" lengthAdjust="spacingAndGlyphs" stroke="#000" stroke-width="0.2">***</text>
<rect x="201.20" y="706.75" width="14.30" height="50.65" fill="#a4b888" stroke="#000" stroke-width="3.0"/>
<line x1="208.35" y1="699.46" x2="208.35" y2="710.19" stroke="#5b624d" stroke-width="1.05"/>
<line x1="203.75" y1="699.46" x2="212.95" y2="699.46" stroke="#5b624d" stroke-width="1.05"/>
<line x1="203.75" y1="710.19" x2="212.95" y2="710.19" stroke="#5b624d" stroke-width="1.05" opacity="0.75"/>
<line x1="208.35" y1="757.40" x2="208.35" y2="766.30" stroke="#000" stroke-width="1.9"/>
<text x="212.25" y="778.50" font-size="16.5" font-weight="700" stroke="#000" stroke-width="0.3" text-anchor="end" transform="rotate(-45 212.25 778.50)">66</text>
<text x="213.35" y="697.50" font-size="16" text-anchor="middle" textLength="19.20" lengthAdjust="spacingAndGlyphs" stroke="#000" stroke-width="0.2">***</text>
<rect x="227.29" y="649.24" width="14.30" height="108.16" fill="#7a5cae" stroke="#000" stroke-width="3.0"/>
<line x1="234.44" y1="637.65" x2="234.44" y2="656.75" stroke="#563c72" stroke-width="1.05"/>
<line x1="229.84" y1="637.65" x2="239.04" y2="637.65" stroke="#563c72" stroke-width="1.05"/>
<line x1="229.84" y1="656.75" x2="239.04" y2="656.75" stroke="#563c72" stroke-width="1.05" opacity="0.75"/>
<line x1="234.44" y1="757.40" x2="234.44" y2="766.30" stroke="#000" stroke-width="1.9"/>
<text x="238.34" y="778.50" font-size="16.5" font-weight="700" stroke="#000" stroke-width="0.3" text-anchor="end" transform="rotate(-45 238.34 778.50)">68</text>
<text x="235.24" y="635.40" font-size="16" text-anchor="middle" textLength="19.20" lengthAdjust="spacingAndGlyphs" stroke="#000" stroke-width="0.2">***</text>
<rect x="253.38" y="706.75" width="14.30" height="50.65" fill="#f09494" stroke="#000" stroke-width="3.0"/>
<line x1="260.53" y1="701.39" x2="260.53" y2="707.83" stroke="#a44931" stroke-width="1.05"/>
<line x1="255.93" y1="701.39" x2="265.13" y2="701.39" stroke="#a44931" stroke-width="1.05"/>
<line x1="255.93" y1="707.83" x2="265.13" y2="707.83" stroke="#a44931" stroke-width="1.05" opacity="0.75"/>
<line x1="260.53" y1="757.40" x2="260.53" y2="766.30" stroke="#000" stroke-width="1.9"/>
<text x="264.43" y="778.50" font-size="16.5" font-weight="700" stroke="#000" stroke-width="0.3" text-anchor="end" transform="rotate(-45 264.43 778.50)">IOX7</text>
<text x="261.33" y="697.70" font-size="16" text-anchor="middle" textLength="19.20" lengthAdjust="spacingAndGlyphs" stroke="#000" stroke-width="0.2">***</text>
<rect x="279.47" y="724.13" width="14.30" height="33.27" fill="#1262a4" stroke="#000" stroke-width="3.0"/>
<line x1="286.62" y1="717.70" x2="286.62" y2="726.93" stroke="#1b4472" stroke-width="1.05"/>
<line x1="282.02" y1="717.70" x2="291.22" y2="717.70" stroke="#1b4472" stroke-width="1.05"/>
<line x1="282.02" y1="726.93" x2="291.22" y2="726.93" stroke="#1b4472" stroke-width="1.05" opacity="0.75"/>
<line x1="286.62" y1="757.40" x2="286.62" y2="766.30" stroke="#000" stroke-width="1.9"/>
<text x="290.52" y="778.50" font-size="16.5" font-weight="700" stroke="#000" stroke-width="0.3" text-anchor="end" transform="rotate(-45 290.52 778.50)">Rotenone</text>
<text x="287.42" y="715.70" font-size="16" text-anchor="middle" textLength="19.20" lengthAdjust="spacingAndGlyphs" stroke="#000" stroke-width="0.2">***</text>
<rect x="305.56" y="699.24" width="14.30" height="58.16" fill="#52189a" stroke="#000" stroke-width="3.0"/>
<line x1="312.71" y1="687.01" x2="312.71" y2="709.54" stroke="#3c2265" stroke-width="1.05"/>
<line x1="308.11" y1="687.01" x2="317.31" y2="687.01" stroke="#3c2265" stroke-width="1.05"/>
<line x1="308.11" y1="709.54" x2="317.31" y2="709.54" stroke="#3c2265" stroke-width="1.05" opacity="0.75"/>
<line x1="312.71" y1="757.40" x2="312.71" y2="766.30" stroke="#000" stroke-width="1.9"/>
<text x="316.61" y="778.50" font-size="16.5" font-weight="700" stroke="#000" stroke-width="0.3" text-anchor="end" transform="rotate(-45 316.61 778.50)">TTFA</text>
<text x="313.51" y="684.00" font-size="16" text-anchor="middle" textLength="19.20" lengthAdjust="spacingAndGlyphs" stroke="#000" stroke-width="0.2">***</text>
<rect x="331.65" y="725.85" width="14.30" height="31.55" fill="url(#pDots)" stroke="#000" stroke-width="3.0"/>
<line x1="338.80" y1="722.42" x2="338.80" y2="725.64" stroke="#562258" stroke-width="1.05"/>
<line x1="334.20" y1="722.42" x2="343.40" y2="722.42" stroke="#562258" stroke-width="1.05"/>
<line x1="334.20" y1="725.64" x2="343.40" y2="725.64" stroke="#562258" stroke-width="1.05" opacity="0.75"/>
<line x1="338.80" y1="757.40" x2="338.80" y2="766.30" stroke="#000" stroke-width="1.9"/>
<text x="342.70" y="778.50" font-size="16.5" font-weight="700" stroke="#000" stroke-width="0.3" text-anchor="end" transform="rotate(-45 342.70 778.50)">Antimycin A</text>
<text x="339.60" y="718.20" font-size="16" text-anchor="middle" textLength="19.20" lengthAdjust="spacingAndGlyphs" stroke="#000" stroke-width="0.2">***</text>
<rect x="357.74" y="718.98" width="14.30" height="38.42" fill="#0a6c4c" stroke="#000" stroke-width="3.0"/>
<line x1="364.89" y1="715.77" x2="364.89" y2="718.77" stroke="#22564b" stroke-width="1.05"/>
<line x1="360.29" y1="715.77" x2="369.49" y2="715.77" stroke="#22564b" stroke-width="1.05"/>
<line x1="360.29" y1="718.77" x2="369.49" y2="718.77" stroke="#22564b" stroke-width="1.05" opacity="0.75"/>
<line x1="364.89" y1="757.40" x2="364.89" y2="766.30" stroke="#000" stroke-width="1.9"/>
<text x="368.79" y="778.50" font-size="16.5" font-weight="700" stroke="#000" stroke-width="0.3" text-anchor="end" transform="rotate(-45 368.79 778.50)">Oligomycin</text>
<text x="365.69" y="710.70" font-size="16" text-anchor="middle" textLength="19.20" lengthAdjust="spacingAndGlyphs" stroke="#000" stroke-width="0.2">***</text>
<line x1="51.20" y1="757.40" x2="381.80" y2="757.40" stroke="#000" stroke-width="2.0"/>
</g>
<g id="panelE">
<text x="436.60" y="482.60" font-size="22.8" font-weight="700" stroke="#000" stroke-width="0.3" textLength="20.40" lengthAdjust="spacingAndGlyphs">E.</text>
<text x="452.40" y="758.60" font-size="17" font-weight="700" stroke="#000" stroke-width="0.3" textLength="212.40" lengthAdjust="spacingAndGlyphs" transform="rotate(-90 452.40 758.60)">% OCR Relative to Baseline</text>
<text x="481.30" y="759.10" font-size="14" font-weight="700" stroke="#000" stroke-width="0.3" text-anchor="end" textLength="20.20" lengthAdjust="spacingAndGlyphs">0.0</text>
<line x1="485.40" y1="754.10" x2="493.80" y2="754.10" stroke="#000" stroke-width="1.7"/>
<text x="481.30" y="708.58" font-size="14" font-weight="700" stroke="#000" stroke-width="0.3" text-anchor="end" textLength="20.20" lengthAdjust="spacingAndGlyphs">0.5</text>
<line x1="485.40" y1="703.58" x2="493.80" y2="703.58" stroke="#000" stroke-width="1.7"/>
<text x="481.30" y="658.05" font-size="14" font-weight="700" stroke="#000" stroke-width="0.3" text-anchor="end" textLength="20.20" lengthAdjust="spacingAndGlyphs">1.0</text>
<line x1="485.40" y1="653.05" x2="493.80" y2="653.05" stroke="#000" stroke-width="1.7"/>
<text x="481.30" y="607.53" font-size="14" font-weight="700" stroke="#000" stroke-width="0.3" text-anchor="end" textLength="20.20" lengthAdjust="spacingAndGlyphs">1.5</text>
<line x1="485.40" y1="602.53" x2="493.80" y2="602.53" stroke="#000" stroke-width="1.7"/>
<text x="481.30" y="557.00" font-size="14" font-weight="700" stroke="#000" stroke-width="0.3" text-anchor="end" textLength="20.20" lengthAdjust="spacingAndGlyphs">2.0</text>
<line x1="485.40" y1="552.00" x2="493.80" y2="552.00" stroke="#000" stroke-width="1.7"/>
<line x1="493.80" y1="551.20" x2="493.80" y2="754.95" stroke="#000" stroke-width="1.9"/>
<text x="579.40" y="486.10" font-size="13.4" stroke="#000" stroke-width="0.15" textLength="117.20" lengthAdjust="spacingAndGlyphs">Complex I inhibitors</text>
<text x="714.10" y="477.90" font-size="13.4" stroke="#000" stroke-width="0.15" textLength="98.70" lengthAdjust="spacingAndGlyphs">Complex II, III, V</text>
<text x="737.10" y="493.60" font-size="13.4" stroke="#000" stroke-width="0.15" textLength="53.20" lengthAdjust="spacingAndGlyphs">inhibitors</text>
<path d="M557.4 522.3 V509.0 H718.4 V522.3" fill="none" stroke="#000" stroke-width="2.6" stroke-linecap="round" stroke-linejoin="miter"/>
<path d="M725.9 522.0 V509.0 H794.8 V520.6" fill="none" stroke="#000" stroke-width="2.6" stroke-linecap="round" stroke-linejoin="miter"/>
<text x="608.60" y="544.80" font-size="14" stroke="#000" stroke-width="0.15" text-anchor="middle" textLength="13.60" lengthAdjust="spacingAndGlyphs">ns</text>
<line x1="509.30" y1="553.60" x2="707.40" y2="553.60" stroke="#000" stroke-width="1.7"/>
<line x1="719.05" y1="551.40" x2="719.05" y2="754.60" stroke="#000" stroke-width="1.9" stroke-dasharray="7.4 2.7"/>
<rect x="503.55" y="646.92" width="13.30" height="107.18" fill="#8eb4dc" stroke="#000" stroke-width="2.9"/>
<line x1="510.20" y1="634.96" x2="510.20" y2="656.18" stroke="#2f6889" stroke-width="1.15"/>
<line x1="505.70" y1="634.96" x2="514.70" y2="634.96" stroke="#2f6889" stroke-width="1.15"/>
<line x1="505.70" y1="656.18" x2="514.70" y2="656.18" stroke="#2f6889" stroke-width="1.15" opacity="0.8"/>
<line x1="510.20" y1="754.10" x2="510.20" y2="762.30" stroke="#000" stroke-width="1.7"/>
<text x="514.10" y="775.40" font-size="15.8" font-weight="700" stroke="#000" stroke-width="0.3" text-anchor="end" transform="rotate(-45 514.10 775.40)">DMSO</text>
<rect x="528.13" y="643.99" width="13.30" height="110.11" fill="#b8a2dc" stroke="#000" stroke-width="2.9"/>
<line x1="534.78" y1="633.14" x2="534.78" y2="651.23" stroke="#563c72" stroke-width="1.15"/>
<line x1="530.28" y1="633.14" x2="539.28" y2="633.14" stroke="#563c72" stroke-width="1.15"/>
<line x1="530.28" y1="651.23" x2="539.28" y2="651.23" stroke="#563c72" stroke-width="1.15" opacity="0.8"/>
<line x1="534.78" y1="754.10" x2="534.78" y2="762.30" stroke="#000" stroke-width="1.7"/>
<text x="538.68" y="775.40" font-size="15.8" font-weight="700" stroke="#000" stroke-width="0.3" text-anchor="end" transform="rotate(-45 538.68 775.40)">2</text>
<rect x="552.71" y="658.85" width="13.30" height="95.25" fill="#f2aaea" stroke="#000" stroke-width="2.9"/>
<line x1="559.36" y1="646.28" x2="559.36" y2="668.31" stroke="#9d3c71" stroke-width="1.15"/>
<line x1="554.86" y1="646.28" x2="563.86" y2="646.28" stroke="#9d3c71" stroke-width="1.15"/>
<line x1="554.86" y1="668.31" x2="563.86" y2="668.31" stroke="#9d3c71" stroke-width="1.15" opacity="0.8"/>
<line x1="559.36" y1="754.10" x2="559.36" y2="762.30" stroke="#000" stroke-width="1.7"/>
<text x="563.26" y="775.40" font-size="15.8" font-weight="700" stroke="#000" stroke-width="0.3" text-anchor="end" transform="rotate(-45 563.26 775.40)">1</text>
<rect x="577.29" y="643.38" width="13.30" height="110.72" fill="#c8e49c" stroke="#000" stroke-width="2.9"/>
<line x1="583.94" y1="636.58" x2="583.94" y2="646.89" stroke="#498372" stroke-width="1.15"/>
<line x1="579.44" y1="636.58" x2="588.44" y2="636.58" stroke="#498372" stroke-width="1.15"/>
<line x1="579.44" y1="646.89" x2="588.44" y2="646.89" stroke="#498372" stroke-width="1.15" opacity="0.8"/>
<line x1="583.94" y1="754.10" x2="583.94" y2="762.30" stroke="#000" stroke-width="1.7"/>
<text x="587.84" y="775.40" font-size="15.8" font-weight="700" stroke="#000" stroke-width="0.3" text-anchor="end" transform="rotate(-45 587.84 775.40)">12</text>
<rect x="601.87" y="623.28" width="13.30" height="130.82" fill="#2a9aba" stroke="#000" stroke-width="2.9"/>
<line x1="608.52" y1="598.08" x2="608.52" y2="645.37" stroke="#22647f" stroke-width="1.15"/>
<line x1="604.02" y1="598.08" x2="613.02" y2="598.08" stroke="#22647f" stroke-width="1.15"/>
<line x1="604.02" y1="645.37" x2="613.02" y2="645.37" stroke="#22647f" stroke-width="1.15" opacity="0.8"/>
<line x1="608.52" y1="754.10" x2="608.52" y2="762.30" stroke="#000" stroke-width="1.7"/>
<text x="612.42" y="775.40" font-size="15.8" font-weight="700" stroke="#000" stroke-width="0.3" text-anchor="end" transform="rotate(-45 612.42 775.40)">35</text>
<rect x="626.45" y="656.82" width="13.30" height="97.28" fill="#a4b888" stroke="#000" stroke-width="2.9"/>
<line x1="633.10" y1="645.47" x2="633.10" y2="664.47" stroke="#5b624d" stroke-width="1.15"/>
<line x1="628.60" y1="645.47" x2="637.60" y2="645.47" stroke="#5b624d" stroke-width="1.15"/>
<line x1="628.60" y1="664.47" x2="637.60" y2="664.47" stroke="#5b624d" stroke-width="1.15" opacity="0.8"/>
<line x1="633.10" y1="754.10" x2="633.10" y2="762.30" stroke="#000" stroke-width="1.7"/>
<text x="637.00" y="775.40" font-size="15.8" font-weight="700" stroke="#000" stroke-width="0.3" text-anchor="end" transform="rotate(-45 637.00 775.40)">66</text>
<rect x="651.03" y="596.70" width="13.30" height="157.40" fill="#7a5cae" stroke="#000" stroke-width="2.9"/>
<line x1="657.68" y1="565.94" x2="657.68" y2="623.54" stroke="#492f65" stroke-width="1.15"/>
<line x1="653.18" y1="565.94" x2="662.18" y2="565.94" stroke="#492f65" stroke-width="1.15"/>
<line x1="653.18" y1="623.54" x2="662.18" y2="623.54" stroke="#492f65" stroke-width="1.15" opacity="0.8"/>
<line x1="657.68" y1="754.10" x2="657.68" y2="762.30" stroke="#000" stroke-width="1.7"/>
<text x="661.58" y="775.40" font-size="15.8" font-weight="700" stroke="#000" stroke-width="0.3" text-anchor="end" transform="rotate(-45 661.58 775.40)">68</text>
<rect x="675.61" y="651.37" width="13.30" height="102.73" fill="#f09494" stroke="#000" stroke-width="2.9"/>
<line x1="682.26" y1="639.11" x2="682.26" y2="659.42" stroke="#a44931" stroke-width="1.15"/>
<line x1="677.76" y1="639.11" x2="686.76" y2="639.11" stroke="#a44931" stroke-width="1.15"/>
<line x1="677.76" y1="659.42" x2="686.76" y2="659.42" stroke="#a44931" stroke-width="1.15" opacity="0.8"/>
<line x1="682.26" y1="754.10" x2="682.26" y2="762.30" stroke="#000" stroke-width="1.7"/>
<text x="686.16" y="775.40" font-size="15.8" font-weight="700" stroke="#000" stroke-width="0.3" text-anchor="end" transform="rotate(-45 686.16 775.40)">IOX7</text>
<rect x="700.19" y="645.61" width="13.30" height="108.49" fill="#1262a4" stroke="#000" stroke-width="2.9"/>
<line x1="706.84" y1="631.93" x2="706.84" y2="654.97" stroke="#1b4472" stroke-width="1.15"/>
<line x1="702.34" y1="631.93" x2="711.34" y2="631.93" stroke="#1b4472" stroke-width="1.15"/>
<line x1="702.34" y1="654.97" x2="711.34" y2="654.97" stroke="#1b4472" stroke-width="1.15" opacity="0.8"/>
<line x1="706.84" y1="754.10" x2="706.84" y2="762.30" stroke="#000" stroke-width="1.7"/>
<text x="710.74" y="775.40" font-size="15.8" font-weight="700" stroke="#000" stroke-width="0.3" text-anchor="end" transform="rotate(-45 710.74 775.40)">Rotenone</text>
<rect x="724.77" y="729.07" width="13.30" height="25.03" fill="#52189a" stroke="#000" stroke-width="2.9"/>
<line x1="731.42" y1="724.59" x2="731.42" y2="729.65" stroke="#3c2265" stroke-width="1.15"/>
<line x1="726.92" y1="724.59" x2="735.92" y2="724.59" stroke="#3c2265" stroke-width="1.15"/>
<line x1="726.92" y1="729.65" x2="735.92" y2="729.65" stroke="#3c2265" stroke-width="1.15" opacity="0.8"/>
<line x1="731.42" y1="754.10" x2="731.42" y2="762.30" stroke="#000" stroke-width="1.7"/>
<text x="735.32" y="775.40" font-size="15.8" font-weight="700" stroke="#000" stroke-width="0.3" text-anchor="end" transform="rotate(-45 735.32 775.40)">TTFA</text>
<text x="732.32" y="720.60" font-size="16" text-anchor="middle" textLength="19.00" lengthAdjust="spacingAndGlyphs" stroke="#000" stroke-width="0.2">***</text>
<rect x="748.20" y="743.39" width="15.60" height="10.71" fill="url(#pDots)" stroke="#3a0a3a" stroke-width="0.6"/>
<line x1="756.00" y1="740.86" x2="756.00" y2="744.90" stroke="#562258" stroke-width="1.15"/>
<line x1="751.50" y1="740.86" x2="760.50" y2="740.86" stroke="#562258" stroke-width="1.15"/>
<line x1="751.50" y1="744.90" x2="760.50" y2="744.90" stroke="#562258" stroke-width="1.15" opacity="0.8"/>
<line x1="756.00" y1="754.10" x2="756.00" y2="762.30" stroke="#000" stroke-width="1.7"/>
<text x="759.90" y="775.40" font-size="15.8" font-weight="700" stroke="#000" stroke-width="0.3" text-anchor="end" transform="rotate(-45 759.90 775.40)">Antimycin A</text>
<text x="756.90" y="738.80" font-size="16" text-anchor="middle" textLength="19.00" lengthAdjust="spacingAndGlyphs" stroke="#000" stroke-width="0.2">***</text>
<rect x="773.93" y="721.60" width="13.30" height="32.50" fill="#0a6c4c" stroke="#000" stroke-width="2.9"/>
<line x1="780.58" y1="718.13" x2="780.58" y2="721.36" stroke="#22564b" stroke-width="1.15"/>
<line x1="776.08" y1="718.13" x2="785.08" y2="718.13" stroke="#22564b" stroke-width="1.15"/>
<line x1="776.08" y1="721.36" x2="785.08" y2="721.36" stroke="#22564b" stroke-width="1.15" opacity="0.8"/>
<line x1="780.58" y1="754.10" x2="780.58" y2="762.30" stroke="#000" stroke-width="1.7"/>
<text x="784.48" y="775.40" font-size="15.8" font-weight="700" stroke="#000" stroke-width="0.3" text-anchor="end" transform="rotate(-45 784.48 775.40)">Oligomycin</text>
<text x="781.48" y="714.30" font-size="16" text-anchor="middle" textLength="19.00" lengthAdjust="spacingAndGlyphs" stroke="#000" stroke-width="0.2">***</text>
<line x1="485.40" y1="754.10" x2="797.00" y2="754.10" stroke="#000" stroke-width="1.8"/>
</g>
</svg>
</body>
</html>
